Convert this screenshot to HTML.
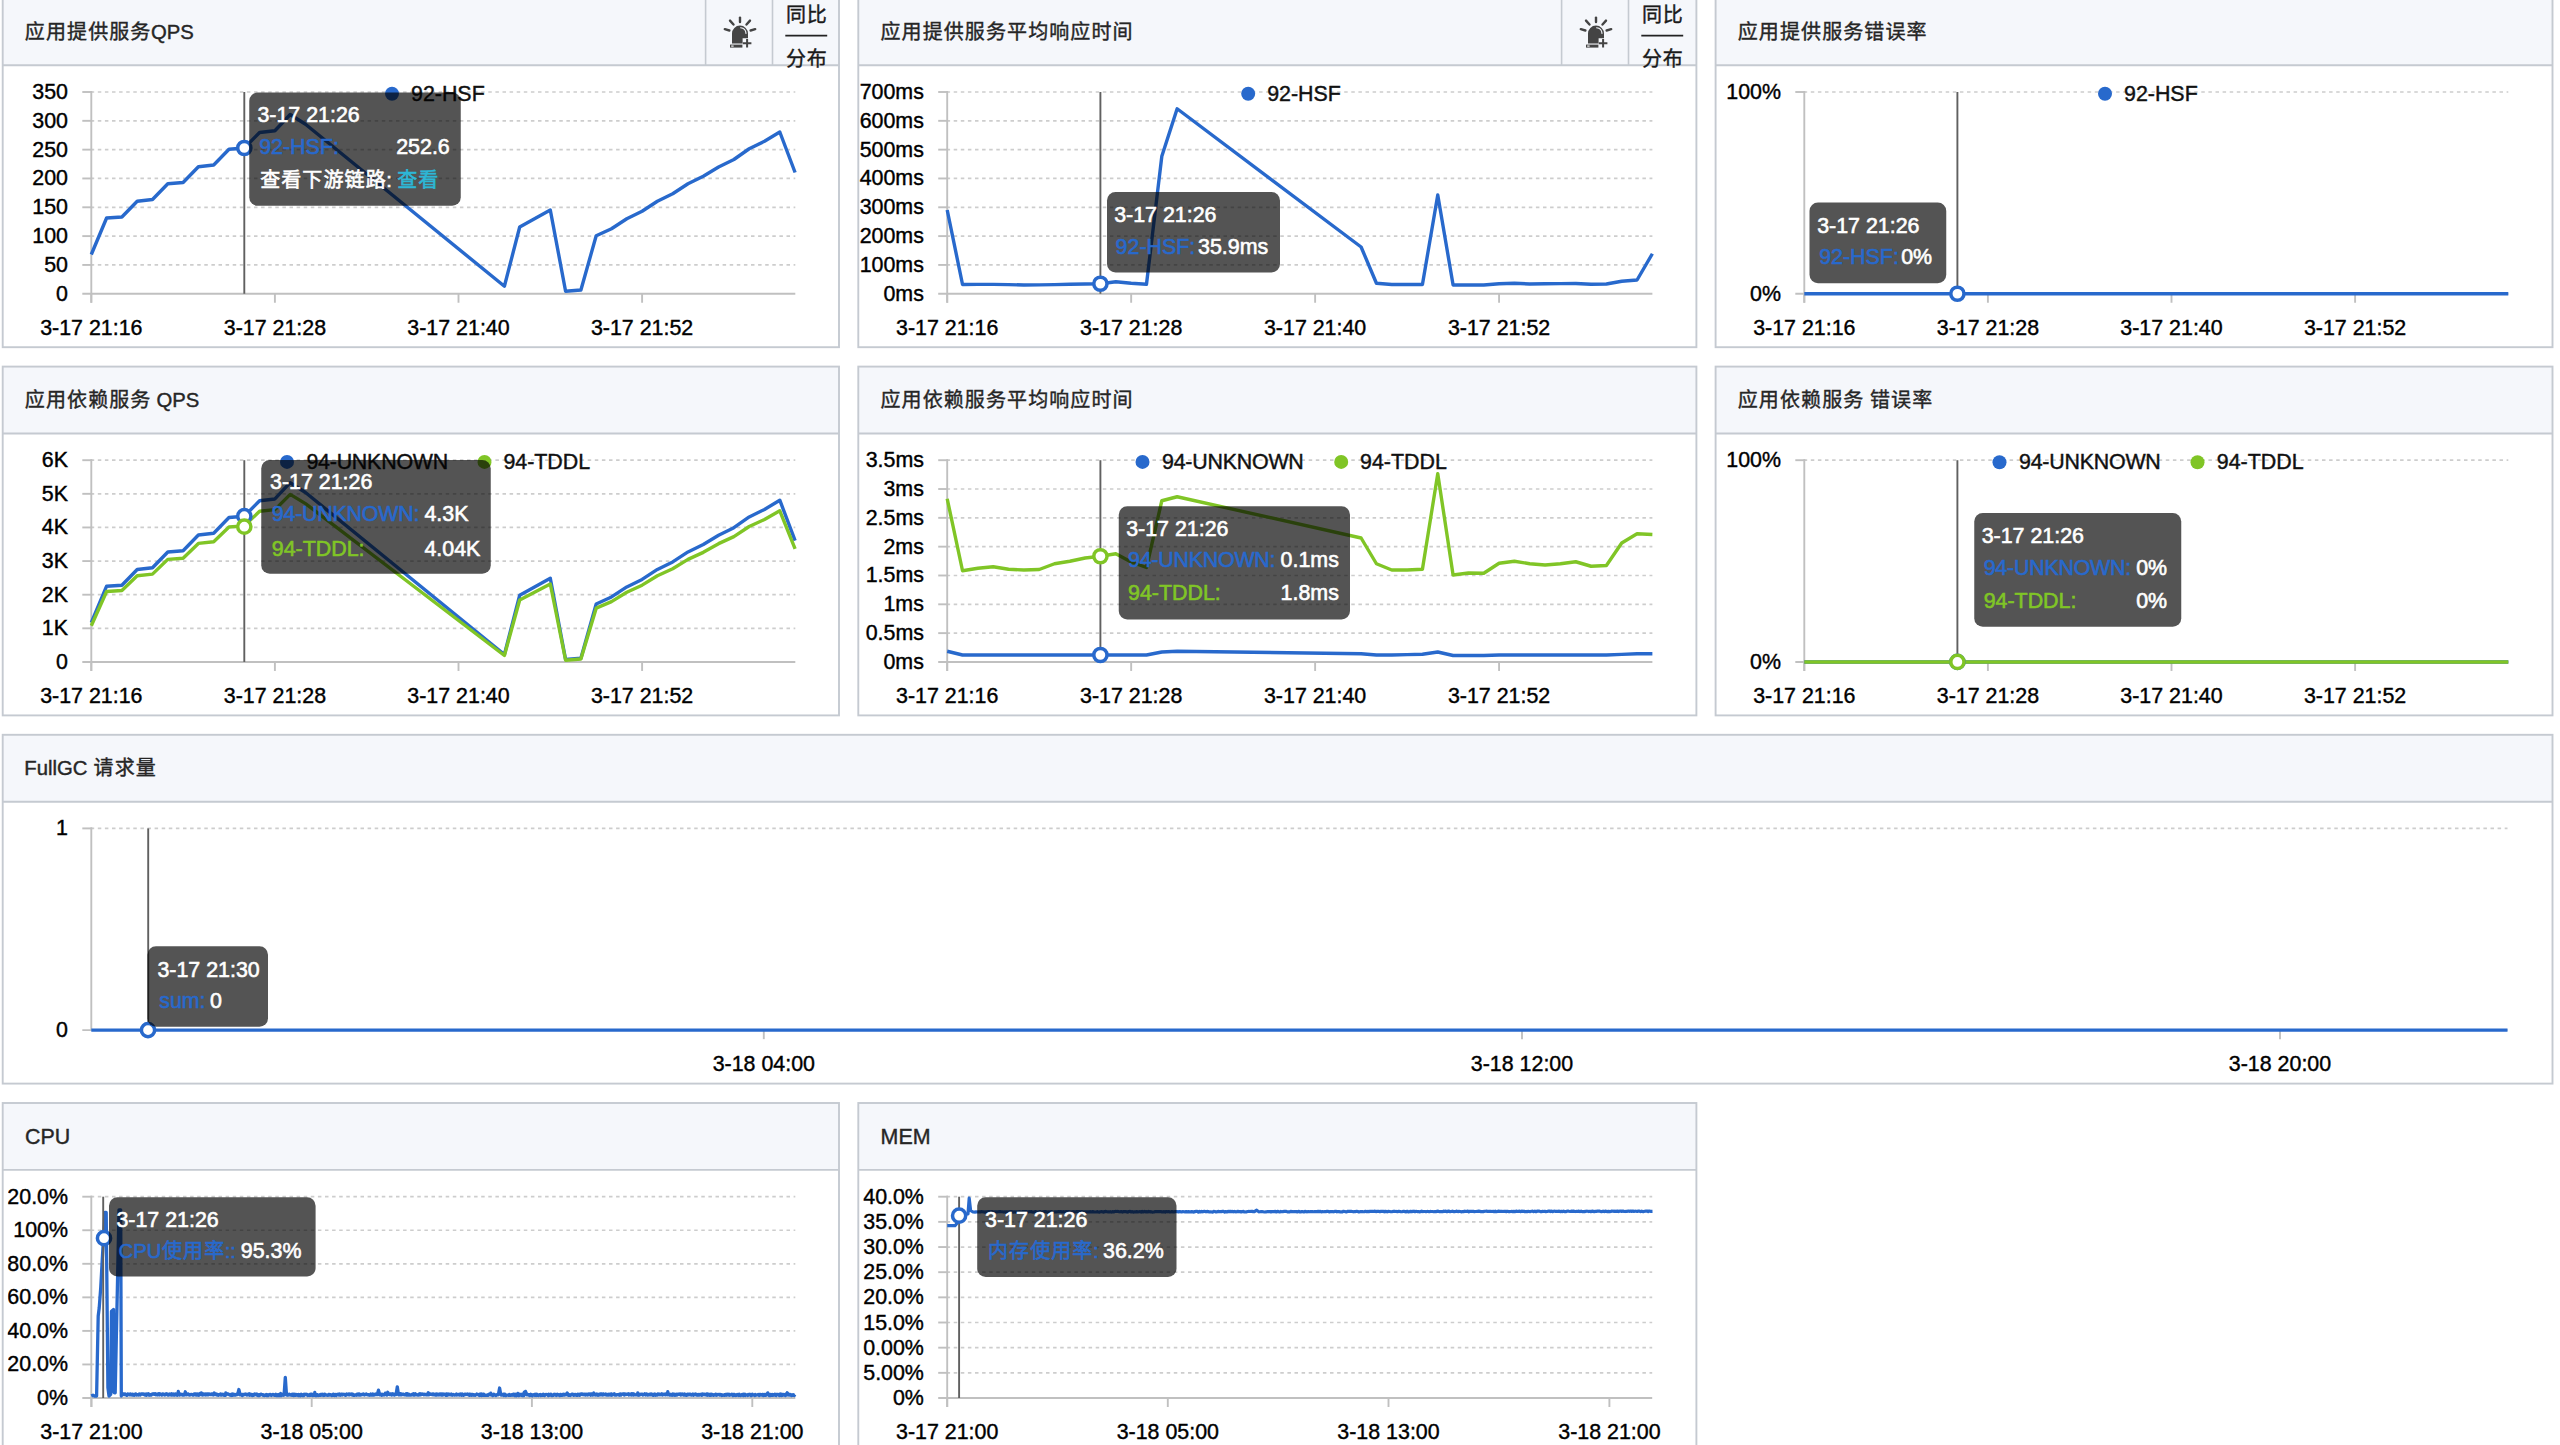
<!DOCTYPE html>
<html lang="zh-CN"><head><meta charset="utf-8"><title>应用监控</title>
<style>
html,body{margin:0;padding:0;background:#fff;}
body{width:2560px;height:1445px;overflow:hidden;}
svg{display:block;}
text{font-family:"Liberation Sans","Noto Sans CJK SC",sans-serif;}
.a{font-size:21.4px;}
.tc{font-size:20px;letter-spacing:1.1px;}
.tl{font-size:20.3px;}
.b{font-size:20px;letter-spacing:0.9px;}
text{stroke-width:0.4px;}
.w{stroke-width:0.6px;}
</style></head>
<body>
<svg width="2560" height="1445" viewBox="0 0 2560 1445">
<defs>
<clipPath id="cp8"><rect x="7.6" y="1170" width="830" height="280"/></clipPath>
<clipPath id="cp9"><rect x="863.2" y="1170" width="832" height="280"/></clipPath>
</defs>
<rect width="2560" height="1445" fill="#fff"/>
<rect x="2.7" y="-1.6" width="836.3" height="66.9" fill="#f5f7fb"/>
<rect x="2.7" y="65.3" width="836.3" height="281.9" fill="#fff"/>
<line x1="705.6" y1="-1.6" x2="705.6" y2="65.3" stroke="#c5cad1" stroke-width="1.6"/>
<line x1="772.5" y1="-1.6" x2="772.5" y2="65.3" stroke="#c5cad1" stroke-width="1.6"/>
<rect x="2.7" y="-1.6" width="836.3" height="348.8" fill="none" stroke="#c5cad1" stroke-width="1.9"/>
<line x1="2.7" y1="65.3" x2="839" y2="65.3" stroke="#c5cad1" stroke-width="1.9"/>
<text class="t" x="24.3" y="38.7" fill="#262626" stroke="#262626"><tspan class="tc" dx="0.55">应用提供服务</tspan><tspan class="tl" dx="-0.55">QPS</tspan></text>
<g transform="translate(0,0)"><line x1="740" y1="17.6" x2="740" y2="22.0" stroke="#444" stroke-width="2.4" stroke-linecap="round"/><line x1="730.0" y1="20.6" x2="733.5" y2="24.5" stroke="#444" stroke-width="2.4" stroke-linecap="round"/><line x1="750.0" y1="20.6" x2="746.5" y2="24.5" stroke="#444" stroke-width="2.4" stroke-linecap="round"/><line x1="724.8" y1="29.2" x2="729.4" y2="30.5" stroke="#444" stroke-width="2.4" stroke-linecap="round"/><line x1="755.2" y1="29.2" x2="750.6" y2="30.5" stroke="#444" stroke-width="2.4" stroke-linecap="round"/><path d="M732,43.6 V33.6 A8,8 0 0 1 748,33.6 V38.2 H742.6 V43.6 Z" fill="#444"/><path d="M740.6,27.8 A6,6 0 0 1 746,33.4" fill="none" stroke="#f5f7fb" stroke-width="1.1" stroke-linecap="round"/><rect x="730" y="44.6" width="12.4" height="3" fill="#444"/><rect x="731.2" y="45.4" width="2.4" height="1.4" fill="#ddd"/><path d="M742.8,43.2 H751.4 M747.1,38.9 V47.5" stroke="#444" stroke-width="2" fill="none"/></g>
<text class="b" x="785.9" y="22.4" fill="#1a1a1a" stroke="#1a1a1a">同比</text>
<line x1="785.3" y1="35.6" x2="827.2" y2="35.6" stroke="#222" stroke-width="1.9"/>
<text class="b" x="785.9" y="65.6" fill="#1a1a1a" stroke="#1a1a1a">分布</text>
<rect x="858.3" y="-1.6" width="838.1" height="66.9" fill="#f5f7fb"/>
<rect x="858.3" y="65.3" width="838.1" height="281.9" fill="#fff"/>
<line x1="1561.6" y1="-1.6" x2="1561.6" y2="65.3" stroke="#c5cad1" stroke-width="1.6"/>
<line x1="1628.5" y1="-1.6" x2="1628.5" y2="65.3" stroke="#c5cad1" stroke-width="1.6"/>
<rect x="858.3" y="-1.6" width="838.1" height="348.8" fill="none" stroke="#c5cad1" stroke-width="1.9"/>
<line x1="858.3" y1="65.3" x2="1696.4" y2="65.3" stroke="#c5cad1" stroke-width="1.9"/>
<text class="t" x="879.9" y="38.7" fill="#262626" stroke="#262626"><tspan class="tc" dx="0.55">应用提供服务平均响应时间</tspan></text>
<g transform="translate(856,0)"><line x1="740" y1="17.6" x2="740" y2="22.0" stroke="#444" stroke-width="2.4" stroke-linecap="round"/><line x1="730.0" y1="20.6" x2="733.5" y2="24.5" stroke="#444" stroke-width="2.4" stroke-linecap="round"/><line x1="750.0" y1="20.6" x2="746.5" y2="24.5" stroke="#444" stroke-width="2.4" stroke-linecap="round"/><line x1="724.8" y1="29.2" x2="729.4" y2="30.5" stroke="#444" stroke-width="2.4" stroke-linecap="round"/><line x1="755.2" y1="29.2" x2="750.6" y2="30.5" stroke="#444" stroke-width="2.4" stroke-linecap="round"/><path d="M732,43.6 V33.6 A8,8 0 0 1 748,33.6 V38.2 H742.6 V43.6 Z" fill="#444"/><path d="M740.6,27.8 A6,6 0 0 1 746,33.4" fill="none" stroke="#f5f7fb" stroke-width="1.1" stroke-linecap="round"/><rect x="730" y="44.6" width="12.4" height="3" fill="#444"/><rect x="731.2" y="45.4" width="2.4" height="1.4" fill="#ddd"/><path d="M742.8,43.2 H751.4 M747.1,38.9 V47.5" stroke="#444" stroke-width="2" fill="none"/></g>
<text class="b" x="1641.9" y="22.4" fill="#1a1a1a" stroke="#1a1a1a">同比</text>
<line x1="1641.3" y1="35.6" x2="1683.2" y2="35.6" stroke="#222" stroke-width="1.9"/>
<text class="b" x="1641.9" y="65.6" fill="#1a1a1a" stroke="#1a1a1a">分布</text>
<rect x="1715.6" y="-1.6" width="836.9" height="66.9" fill="#f5f7fb"/>
<rect x="1715.6" y="65.3" width="836.9" height="281.9" fill="#fff"/>
<rect x="1715.6" y="-1.6" width="836.9" height="348.8" fill="none" stroke="#c5cad1" stroke-width="1.9"/>
<line x1="1715.6" y1="65.3" x2="2552.5" y2="65.3" stroke="#c5cad1" stroke-width="1.9"/>
<text class="t" x="1737.2" y="38.7" fill="#262626" stroke="#262626"><tspan class="tc" dx="0.55">应用提供服务错误率</tspan></text>
<rect x="2.7" y="366.6" width="836.3" height="66.9" fill="#f5f7fb"/>
<rect x="2.7" y="433.5" width="836.3" height="281.9" fill="#fff"/>
<rect x="2.7" y="366.6" width="836.3" height="348.8" fill="none" stroke="#c5cad1" stroke-width="1.9"/>
<line x1="2.7" y1="433.5" x2="839" y2="433.5" stroke="#c5cad1" stroke-width="1.9"/>
<text class="t" x="24.3" y="406.9" fill="#262626" stroke="#262626"><tspan class="tc" dx="0.55">应用依赖服务</tspan><tspan class="tl" dx="-0.55"> QPS</tspan></text>
<rect x="858.3" y="366.6" width="838.1" height="66.9" fill="#f5f7fb"/>
<rect x="858.3" y="433.5" width="838.1" height="281.9" fill="#fff"/>
<rect x="858.3" y="366.6" width="838.1" height="348.8" fill="none" stroke="#c5cad1" stroke-width="1.9"/>
<line x1="858.3" y1="433.5" x2="1696.4" y2="433.5" stroke="#c5cad1" stroke-width="1.9"/>
<text class="t" x="879.9" y="406.9" fill="#262626" stroke="#262626"><tspan class="tc" dx="0.55">应用依赖服务平均响应时间</tspan></text>
<rect x="1715.6" y="366.6" width="836.9" height="66.9" fill="#f5f7fb"/>
<rect x="1715.6" y="433.5" width="836.9" height="281.9" fill="#fff"/>
<rect x="1715.6" y="366.6" width="836.9" height="348.8" fill="none" stroke="#c5cad1" stroke-width="1.9"/>
<line x1="1715.6" y1="433.5" x2="2552.5" y2="433.5" stroke="#c5cad1" stroke-width="1.9"/>
<text class="t" x="1737.2" y="406.9" fill="#262626" stroke="#262626"><tspan class="tc" dx="0.55">应用依赖服务</tspan><tspan class="tl" dx="-0.55"> </tspan><tspan class="tc" dx="0.55">错误率</tspan></text>
<rect x="2.7" y="734.8" width="2549.8" height="66.9" fill="#f5f7fb"/>
<rect x="2.7" y="801.7" width="2549.8" height="281.9" fill="#fff"/>
<rect x="2.7" y="734.8" width="2549.8" height="348.8" fill="none" stroke="#c5cad1" stroke-width="1.9"/>
<line x1="2.7" y1="801.7" x2="2552.5" y2="801.7" stroke="#c5cad1" stroke-width="1.9"/>
<text class="t" x="24.3" y="775.1" fill="#262626" stroke="#262626"><tspan class="tl">FullGC </tspan><tspan class="tc" dx="0.55">请求量</tspan></text>
<rect x="2.7" y="1103" width="836.3" height="66.9" fill="#f5f7fb"/>
<rect x="2.7" y="1169.9" width="836.3" height="281.9" fill="#fff"/>
<rect x="2.7" y="1103" width="836.3" height="348.8" fill="none" stroke="#c5cad1" stroke-width="1.9"/>
<line x1="2.7" y1="1169.9" x2="839" y2="1169.9" stroke="#c5cad1" stroke-width="1.9"/>
<text class="t" x="25" y="1144" fill="#262626" stroke="#262626"><tspan class="a">CPU</tspan></text>
<rect x="858.3" y="1103" width="838.1" height="66.9" fill="#f5f7fb"/>
<rect x="858.3" y="1169.9" width="838.1" height="281.9" fill="#fff"/>
<rect x="858.3" y="1103" width="838.1" height="348.8" fill="none" stroke="#c5cad1" stroke-width="1.9"/>
<line x1="858.3" y1="1169.9" x2="1696.4" y2="1169.9" stroke="#c5cad1" stroke-width="1.9"/>
<text class="t" x="880.6" y="1144" fill="#262626" stroke="#262626"><tspan class="a">MEM</tspan></text>
<line x1="90.7" y1="92" x2="795.3" y2="92" stroke="#cdcdcd" stroke-width="1.7" stroke-dasharray="3.5 3.6"/><line x1="82.3" y1="92" x2="92.2" y2="92" stroke="#c0c0c0" stroke-width="1.9"/><line x1="90.7" y1="120.82" x2="795.3" y2="120.82" stroke="#cdcdcd" stroke-width="1.7" stroke-dasharray="3.5 3.6"/><line x1="82.3" y1="120.82" x2="92.2" y2="120.82" stroke="#c0c0c0" stroke-width="1.9"/><line x1="90.7" y1="149.64" x2="795.3" y2="149.64" stroke="#cdcdcd" stroke-width="1.7" stroke-dasharray="3.5 3.6"/><line x1="82.3" y1="149.64" x2="92.2" y2="149.64" stroke="#c0c0c0" stroke-width="1.9"/><line x1="90.7" y1="178.46" x2="795.3" y2="178.46" stroke="#cdcdcd" stroke-width="1.7" stroke-dasharray="3.5 3.6"/><line x1="82.3" y1="178.46" x2="92.2" y2="178.46" stroke="#c0c0c0" stroke-width="1.9"/><line x1="90.7" y1="207.29" x2="795.3" y2="207.29" stroke="#cdcdcd" stroke-width="1.7" stroke-dasharray="3.5 3.6"/><line x1="82.3" y1="207.29" x2="92.2" y2="207.29" stroke="#c0c0c0" stroke-width="1.9"/><line x1="90.7" y1="236.11" x2="795.3" y2="236.11" stroke="#cdcdcd" stroke-width="1.7" stroke-dasharray="3.5 3.6"/><line x1="82.3" y1="236.11" x2="92.2" y2="236.11" stroke="#c0c0c0" stroke-width="1.9"/><line x1="90.7" y1="264.93" x2="795.3" y2="264.93" stroke="#cdcdcd" stroke-width="1.7" stroke-dasharray="3.5 3.6"/><line x1="82.3" y1="264.93" x2="92.2" y2="264.93" stroke="#c0c0c0" stroke-width="1.9"/><line x1="82.3" y1="293.75" x2="795.3" y2="293.75" stroke="#c0c0c0" stroke-width="1.9"/><line x1="91.3" y1="91.1" x2="91.3" y2="302.75" stroke="#c0c0c0" stroke-width="1.9"/><line x1="91.3" y1="293.75" x2="91.3" y2="302.75" stroke="#c0c0c0" stroke-width="1.9"/><line x1="274.9" y1="293.75" x2="274.9" y2="302.75" stroke="#c0c0c0" stroke-width="1.9"/><line x1="458.5" y1="293.75" x2="458.5" y2="302.75" stroke="#c0c0c0" stroke-width="1.9"/><line x1="642.1" y1="293.75" x2="642.1" y2="302.75" stroke="#c0c0c0" stroke-width="1.9"/>
<g class="a" fill="#000" stroke="#000"><text x="68" y="99" text-anchor="end">350</text><text x="68" y="127.82" text-anchor="end">300</text><text x="68" y="156.64" text-anchor="end">250</text><text x="68" y="185.46" text-anchor="end">200</text><text x="68" y="214.29" text-anchor="end">150</text><text x="68" y="243.11" text-anchor="end">100</text><text x="68" y="271.93" text-anchor="end">50</text><text x="68" y="300.75" text-anchor="end">0</text><text x="91.3" y="335.05" text-anchor="middle">3-17 21:16</text><text x="274.9" y="335.05" text-anchor="middle">3-17 21:28</text><text x="458.5" y="335.05" text-anchor="middle">3-17 21:40</text><text x="642.1" y="335.05" text-anchor="middle">3-17 21:52</text></g>
<circle cx="392" cy="93.75" r="7" fill="#2869cc"/><text class="a" x="411" y="100.65" fill="#111" stroke="#111">92-HSF</text>
<polyline points="91.3,254.5 106.6,218 121.9,217 137.2,201.25 152.5,199.5 167.8,183.75 183.1,182.5 198.4,166.75 213.7,165 229,149.25 244.3,148 259.6,132.5 274.9,130.75 290.2,114.5 305.5,124.3 504.4,286.25 519.7,227 535,218.5 550.3,210 565.6,291.25 580.9,290 596.2,235.75 611.5,228.75 626.8,218.75 642.1,211.25 657.4,201.25 672.7,193.75 688,183.75 703.3,176.25 718.6,167 733.9,159.5 749.2,148.75 764.5,141.25 779.8,132 795.1,172.5" fill="none" stroke="#2869cc" stroke-width="3.4" stroke-linejoin="round" stroke-linecap="butt"/>
<line x1="244.3" y1="92" x2="244.3" y2="293.75" stroke="#606060" stroke-width="1.9"/>
<circle cx="244.3" cy="148" r="6.6" fill="#fff" stroke="#2869cc" stroke-width="3.5"/>
<rect x="249.25" y="92.5" width="211.5" height="113.25" rx="8.5" fill="rgba(0,0,0,0.67)"/><text class="a w" x="257.4" y="121.7" fill="#fff" stroke="#fff">3-17 21:26</text><text class="a w" x="259.2" y="153.7" fill="#2869cc" stroke="#2869cc">92-HSF:</text><text class="a w" x="396.2" y="153.7" fill="#fff" stroke="#fff">252.6</text><text class="a w" x="259.6" y="187" fill="#fff" stroke="#fff"><tspan class="tc" dx="0.55">查看下游链路</tspan><tspan class="tl" dx="-0.55">:</tspan></text><text class="a w" x="396.6" y="187" fill="#2db7d6" stroke="#2db7d6"><tspan class="tc" dx="0.55">查看</tspan></text>
<line x1="946.6" y1="92" x2="1652.38" y2="92" stroke="#cdcdcd" stroke-width="1.7" stroke-dasharray="3.5 3.6"/><line x1="938.2" y1="92" x2="948.1" y2="92" stroke="#c0c0c0" stroke-width="1.9"/><line x1="946.6" y1="120.82" x2="1652.38" y2="120.82" stroke="#cdcdcd" stroke-width="1.7" stroke-dasharray="3.5 3.6"/><line x1="938.2" y1="120.82" x2="948.1" y2="120.82" stroke="#c0c0c0" stroke-width="1.9"/><line x1="946.6" y1="149.64" x2="1652.38" y2="149.64" stroke="#cdcdcd" stroke-width="1.7" stroke-dasharray="3.5 3.6"/><line x1="938.2" y1="149.64" x2="948.1" y2="149.64" stroke="#c0c0c0" stroke-width="1.9"/><line x1="946.6" y1="178.46" x2="1652.38" y2="178.46" stroke="#cdcdcd" stroke-width="1.7" stroke-dasharray="3.5 3.6"/><line x1="938.2" y1="178.46" x2="948.1" y2="178.46" stroke="#c0c0c0" stroke-width="1.9"/><line x1="946.6" y1="207.29" x2="1652.38" y2="207.29" stroke="#cdcdcd" stroke-width="1.7" stroke-dasharray="3.5 3.6"/><line x1="938.2" y1="207.29" x2="948.1" y2="207.29" stroke="#c0c0c0" stroke-width="1.9"/><line x1="946.6" y1="236.11" x2="1652.38" y2="236.11" stroke="#cdcdcd" stroke-width="1.7" stroke-dasharray="3.5 3.6"/><line x1="938.2" y1="236.11" x2="948.1" y2="236.11" stroke="#c0c0c0" stroke-width="1.9"/><line x1="946.6" y1="264.93" x2="1652.38" y2="264.93" stroke="#cdcdcd" stroke-width="1.7" stroke-dasharray="3.5 3.6"/><line x1="938.2" y1="264.93" x2="948.1" y2="264.93" stroke="#c0c0c0" stroke-width="1.9"/><line x1="938.2" y1="293.75" x2="1652.38" y2="293.75" stroke="#c0c0c0" stroke-width="1.9"/><line x1="947.2" y1="91.1" x2="947.2" y2="302.75" stroke="#c0c0c0" stroke-width="1.9"/><line x1="947.2" y1="293.75" x2="947.2" y2="302.75" stroke="#c0c0c0" stroke-width="1.9"/><line x1="1131.16" y1="293.75" x2="1131.16" y2="302.75" stroke="#c0c0c0" stroke-width="1.9"/><line x1="1315.12" y1="293.75" x2="1315.12" y2="302.75" stroke="#c0c0c0" stroke-width="1.9"/><line x1="1499.08" y1="293.75" x2="1499.08" y2="302.75" stroke="#c0c0c0" stroke-width="1.9"/>
<g class="a" fill="#000" stroke="#000"><text x="923.9" y="99" text-anchor="end">700ms</text><text x="923.9" y="127.82" text-anchor="end">600ms</text><text x="923.9" y="156.64" text-anchor="end">500ms</text><text x="923.9" y="185.46" text-anchor="end">400ms</text><text x="923.9" y="214.29" text-anchor="end">300ms</text><text x="923.9" y="243.11" text-anchor="end">200ms</text><text x="923.9" y="271.93" text-anchor="end">100ms</text><text x="923.9" y="300.75" text-anchor="end">0ms</text><text x="947.2" y="335.05" text-anchor="middle">3-17 21:16</text><text x="1131.16" y="335.05" text-anchor="middle">3-17 21:28</text><text x="1315.12" y="335.05" text-anchor="middle">3-17 21:40</text><text x="1499.08" y="335.05" text-anchor="middle">3-17 21:52</text></g>
<circle cx="1248.2" cy="93.75" r="7" fill="#2869cc"/><text class="a" x="1267.2" y="100.65" fill="#111" stroke="#111">92-HSF</text>
<polyline points="947.2,210 962.53,284.5 977.86,284.4 993.19,284.4 1008.52,284.6 1023.85,285 1039.18,284.9 1054.51,284.6 1069.84,284.3 1085.17,284 1100.5,283.75 1115.83,281.75 1131.16,283.25 1146.49,284.25 1161.82,156.25 1177.15,108.75 1361.11,247 1376.44,283.25 1391.77,284.5 1407.1,284.5 1422.43,284.5 1437.76,195 1453.09,285 1468.42,285 1483.75,285 1499.08,283.75 1514.41,283.25 1529.74,284 1545.07,283.8 1560.4,283.6 1575.73,283.5 1591.06,284.25 1606.39,284 1621.72,281.25 1637.05,280 1652.38,253.75" fill="none" stroke="#2869cc" stroke-width="3.4" stroke-linejoin="round" stroke-linecap="butt"/>
<line x1="1100.4" y1="92" x2="1100.4" y2="293.75" stroke="#606060" stroke-width="1.9"/>
<circle cx="1100.4" cy="283.75" r="6.6" fill="#fff" stroke="#2869cc" stroke-width="3.5"/>
<rect x="1107" y="192" width="173" height="80.5" rx="8.5" fill="rgba(0,0,0,0.67)"/><text class="a w" x="1114.2" y="221.9" fill="#fff" stroke="#fff">3-17 21:26</text><text class="a w" x="1115.6" y="253.7" fill="#2869cc" stroke="#2869cc">92-HSF:</text><text class="a w" x="1198" y="253.7" fill="#fff" stroke="#fff">35.9ms</text>
<line x1="1803.7" y1="92" x2="2508.3" y2="92" stroke="#cdcdcd" stroke-width="1.7" stroke-dasharray="3.5 3.6"/><line x1="1795.3" y1="92" x2="1805.2" y2="92" stroke="#c0c0c0" stroke-width="1.9"/><line x1="1795.3" y1="293.75" x2="2508.3" y2="293.75" stroke="#c0c0c0" stroke-width="1.9"/><line x1="1804.3" y1="91.1" x2="1804.3" y2="302.75" stroke="#c0c0c0" stroke-width="1.9"/><line x1="1804.3" y1="293.75" x2="1804.3" y2="302.75" stroke="#c0c0c0" stroke-width="1.9"/><line x1="1987.9" y1="293.75" x2="1987.9" y2="302.75" stroke="#c0c0c0" stroke-width="1.9"/><line x1="2171.5" y1="293.75" x2="2171.5" y2="302.75" stroke="#c0c0c0" stroke-width="1.9"/><line x1="2355.1" y1="293.75" x2="2355.1" y2="302.75" stroke="#c0c0c0" stroke-width="1.9"/>
<g class="a" fill="#000" stroke="#000"><text x="1781" y="99" text-anchor="end">100%</text><text x="1781" y="300.75" text-anchor="end">0%</text><text x="1804.3" y="335.05" text-anchor="middle">3-17 21:16</text><text x="1987.9" y="335.05" text-anchor="middle">3-17 21:28</text><text x="2171.5" y="335.05" text-anchor="middle">3-17 21:40</text><text x="2355.1" y="335.05" text-anchor="middle">3-17 21:52</text></g>
<circle cx="2105" cy="93.75" r="7" fill="#2869cc"/><text class="a" x="2124" y="100.65" fill="#111" stroke="#111">92-HSF</text>
<polyline points="1804.3,293.75 2508.3,293.75" fill="none" stroke="#2869cc" stroke-width="3.4" stroke-linejoin="round" stroke-linecap="butt"/>
<line x1="1957.4" y1="92" x2="1957.4" y2="293.75" stroke="#606060" stroke-width="1.9"/>
<circle cx="1957.4" cy="293.75" r="6.6" fill="#fff" stroke="#2869cc" stroke-width="3.5"/>
<rect x="1809.5" y="202.5" width="136.75" height="80.75" rx="8.5" fill="rgba(0,0,0,0.67)"/><text class="a w" x="1817.2" y="233.2" fill="#fff" stroke="#fff">3-17 21:26</text><text class="a w" x="1819.2" y="264.45" fill="#2869cc" stroke="#2869cc">92-HSF:</text><text class="a w" x="1901.2" y="264.45" fill="#fff" stroke="#fff">0%</text>
<line x1="90.7" y1="460.2" x2="795.3" y2="460.2" stroke="#cdcdcd" stroke-width="1.7" stroke-dasharray="3.5 3.6"/><line x1="82.3" y1="460.2" x2="92.2" y2="460.2" stroke="#c0c0c0" stroke-width="1.9"/><line x1="90.7" y1="493.82" x2="795.3" y2="493.82" stroke="#cdcdcd" stroke-width="1.7" stroke-dasharray="3.5 3.6"/><line x1="82.3" y1="493.82" x2="92.2" y2="493.82" stroke="#c0c0c0" stroke-width="1.9"/><line x1="90.7" y1="527.45" x2="795.3" y2="527.45" stroke="#cdcdcd" stroke-width="1.7" stroke-dasharray="3.5 3.6"/><line x1="82.3" y1="527.45" x2="92.2" y2="527.45" stroke="#c0c0c0" stroke-width="1.9"/><line x1="90.7" y1="561.08" x2="795.3" y2="561.08" stroke="#cdcdcd" stroke-width="1.7" stroke-dasharray="3.5 3.6"/><line x1="82.3" y1="561.08" x2="92.2" y2="561.08" stroke="#c0c0c0" stroke-width="1.9"/><line x1="90.7" y1="594.7" x2="795.3" y2="594.7" stroke="#cdcdcd" stroke-width="1.7" stroke-dasharray="3.5 3.6"/><line x1="82.3" y1="594.7" x2="92.2" y2="594.7" stroke="#c0c0c0" stroke-width="1.9"/><line x1="90.7" y1="628.33" x2="795.3" y2="628.33" stroke="#cdcdcd" stroke-width="1.7" stroke-dasharray="3.5 3.6"/><line x1="82.3" y1="628.33" x2="92.2" y2="628.33" stroke="#c0c0c0" stroke-width="1.9"/><line x1="82.3" y1="661.95" x2="795.3" y2="661.95" stroke="#c0c0c0" stroke-width="1.9"/><line x1="91.3" y1="459.3" x2="91.3" y2="670.95" stroke="#c0c0c0" stroke-width="1.9"/><line x1="91.3" y1="661.95" x2="91.3" y2="670.95" stroke="#c0c0c0" stroke-width="1.9"/><line x1="274.9" y1="661.95" x2="274.9" y2="670.95" stroke="#c0c0c0" stroke-width="1.9"/><line x1="458.5" y1="661.95" x2="458.5" y2="670.95" stroke="#c0c0c0" stroke-width="1.9"/><line x1="642.1" y1="661.95" x2="642.1" y2="670.95" stroke="#c0c0c0" stroke-width="1.9"/>
<g class="a" fill="#000" stroke="#000"><text x="68" y="467.2" text-anchor="end">6K</text><text x="68" y="500.82" text-anchor="end">5K</text><text x="68" y="534.45" text-anchor="end">4K</text><text x="68" y="568.08" text-anchor="end">3K</text><text x="68" y="601.7" text-anchor="end">2K</text><text x="68" y="635.33" text-anchor="end">1K</text><text x="68" y="668.95" text-anchor="end">0</text><text x="91.3" y="703.25" text-anchor="middle">3-17 21:16</text><text x="274.9" y="703.25" text-anchor="middle">3-17 21:28</text><text x="458.5" y="703.25" text-anchor="middle">3-17 21:40</text><text x="642.1" y="703.25" text-anchor="middle">3-17 21:52</text></g>
<circle cx="287" cy="461.9" r="7" fill="#2869cc"/><text class="a" x="306.4" y="468.8" fill="#111" stroke="#111" letter-spacing="-0.22">94-UNKNOWN</text><circle cx="484.5" cy="461.9" r="7" fill="#80c526"/><text class="a" x="503.4" y="468.8" fill="#111" stroke="#111">94-TDDL</text>
<polyline points="91.3,622.7 106.6,586.2 121.9,585.2 137.2,569.45 152.5,567.7 167.8,551.95 183.1,550.7 198.4,534.95 213.7,533.2 229,517.45 244.3,516.2 259.6,500.7 274.9,498.95 290.2,482.7 305.5,492.5 504.4,654.45 519.7,595.2 535,586.7 550.3,578.2 565.6,659.45 580.9,658.2 596.2,603.95 611.5,596.95 626.8,586.95 642.1,579.45 657.4,569.45 672.7,561.95 688,551.95 703.3,544.45 718.6,535.2 733.9,527.7 749.2,516.95 764.5,509.45 779.8,500.2 795.1,540.7" fill="none" stroke="#2869cc" stroke-width="3.4" stroke-linejoin="round" stroke-linecap="butt"/>
<polyline points="91.3,625.73 106.6,591.5 121.9,590.56 137.2,575.79 152.5,574.14 167.8,559.37 183.1,558.2 198.4,543.42 213.7,541.78 229,527.01 244.3,525.84 259.6,511.3 274.9,509.66 290.2,494.41 305.5,503.61 504.4,655.52 519.7,599.94 535,591.97 550.3,583.99 565.6,660.21 580.9,659.03 596.2,608.15 611.5,601.58 626.8,592.2 642.1,585.17 657.4,575.79 672.7,568.75 688,559.37 703.3,552.34 718.6,543.66 733.9,536.62 749.2,526.54 764.5,519.5 779.8,510.83 795.1,548.82" fill="none" stroke="#80c526" stroke-width="3.4" stroke-linejoin="round" stroke-linecap="butt"/>
<line x1="244.3" y1="460.2" x2="244.3" y2="661.95" stroke="#606060" stroke-width="1.9"/>
<circle cx="244.3" cy="516.2" r="6.6" fill="#fff" stroke="#2869cc" stroke-width="3.5"/>
<circle cx="244.3" cy="526.7" r="6.6" fill="#fff" stroke="#80c526" stroke-width="3.5"/>
<rect x="261.25" y="460" width="229.5" height="113.75" rx="8.5" fill="rgba(0,0,0,0.67)"/><text class="a w" x="270" y="489.45" fill="#fff" stroke="#fff">3-17 21:26</text><text class="a w" x="271.8" y="521.45" fill="#2869cc" stroke="#2869cc" letter-spacing="-0.22">94-UNKNOWN:</text><text class="a w" x="424.4" y="521.45" fill="#fff" stroke="#fff">4.3K</text><text class="a w" x="271.8" y="555.7" fill="#80c526" stroke="#80c526">94-TDDL:</text><text class="a w" x="424.4" y="555.7" fill="#fff" stroke="#fff">4.04K</text>
<line x1="946.6" y1="460.2" x2="1652.38" y2="460.2" stroke="#cdcdcd" stroke-width="1.7" stroke-dasharray="3.5 3.6"/><line x1="938.2" y1="460.2" x2="948.1" y2="460.2" stroke="#c0c0c0" stroke-width="1.9"/><line x1="946.6" y1="489.02" x2="1652.38" y2="489.02" stroke="#cdcdcd" stroke-width="1.7" stroke-dasharray="3.5 3.6"/><line x1="938.2" y1="489.02" x2="948.1" y2="489.02" stroke="#c0c0c0" stroke-width="1.9"/><line x1="946.6" y1="517.84" x2="1652.38" y2="517.84" stroke="#cdcdcd" stroke-width="1.7" stroke-dasharray="3.5 3.6"/><line x1="938.2" y1="517.84" x2="948.1" y2="517.84" stroke="#c0c0c0" stroke-width="1.9"/><line x1="946.6" y1="546.66" x2="1652.38" y2="546.66" stroke="#cdcdcd" stroke-width="1.7" stroke-dasharray="3.5 3.6"/><line x1="938.2" y1="546.66" x2="948.1" y2="546.66" stroke="#c0c0c0" stroke-width="1.9"/><line x1="946.6" y1="575.49" x2="1652.38" y2="575.49" stroke="#cdcdcd" stroke-width="1.7" stroke-dasharray="3.5 3.6"/><line x1="938.2" y1="575.49" x2="948.1" y2="575.49" stroke="#c0c0c0" stroke-width="1.9"/><line x1="946.6" y1="604.31" x2="1652.38" y2="604.31" stroke="#cdcdcd" stroke-width="1.7" stroke-dasharray="3.5 3.6"/><line x1="938.2" y1="604.31" x2="948.1" y2="604.31" stroke="#c0c0c0" stroke-width="1.9"/><line x1="946.6" y1="633.13" x2="1652.38" y2="633.13" stroke="#cdcdcd" stroke-width="1.7" stroke-dasharray="3.5 3.6"/><line x1="938.2" y1="633.13" x2="948.1" y2="633.13" stroke="#c0c0c0" stroke-width="1.9"/><line x1="938.2" y1="661.95" x2="1652.38" y2="661.95" stroke="#c0c0c0" stroke-width="1.9"/><line x1="947.2" y1="459.3" x2="947.2" y2="670.95" stroke="#c0c0c0" stroke-width="1.9"/><line x1="947.2" y1="661.95" x2="947.2" y2="670.95" stroke="#c0c0c0" stroke-width="1.9"/><line x1="1131.16" y1="661.95" x2="1131.16" y2="670.95" stroke="#c0c0c0" stroke-width="1.9"/><line x1="1315.12" y1="661.95" x2="1315.12" y2="670.95" stroke="#c0c0c0" stroke-width="1.9"/><line x1="1499.08" y1="661.95" x2="1499.08" y2="670.95" stroke="#c0c0c0" stroke-width="1.9"/>
<g class="a" fill="#000" stroke="#000"><text x="923.9" y="467.2" text-anchor="end">3.5ms</text><text x="923.9" y="496.02" text-anchor="end">3ms</text><text x="923.9" y="524.84" text-anchor="end">2.5ms</text><text x="923.9" y="553.66" text-anchor="end">2ms</text><text x="923.9" y="582.49" text-anchor="end">1.5ms</text><text x="923.9" y="611.31" text-anchor="end">1ms</text><text x="923.9" y="640.13" text-anchor="end">0.5ms</text><text x="923.9" y="668.95" text-anchor="end">0ms</text><text x="947.2" y="703.25" text-anchor="middle">3-17 21:16</text><text x="1131.16" y="703.25" text-anchor="middle">3-17 21:28</text><text x="1315.12" y="703.25" text-anchor="middle">3-17 21:40</text><text x="1499.08" y="703.25" text-anchor="middle">3-17 21:52</text></g>
<circle cx="1142.5" cy="461.9" r="7" fill="#2869cc"/><text class="a" x="1162" y="468.8" fill="#111" stroke="#111" letter-spacing="-0.22">94-UNKNOWN</text><circle cx="1341.2" cy="461.9" r="7" fill="#80c526"/><text class="a" x="1360" y="468.8" fill="#111" stroke="#111">94-TDDL</text>
<polyline points="947.2,651.25 962.53,655 1146.49,655 1161.82,652 1177.15,651.25 1361.11,653.75 1376.44,655 1391.77,655 1407.1,654.6 1422.43,654.25 1437.76,652 1453.09,655.5 1468.42,655.5 1483.75,655.5 1499.08,655 1606.39,655 1621.72,654.4 1637.05,653.75 1652.38,653.75" fill="none" stroke="#2869cc" stroke-width="3.4" stroke-linejoin="round" stroke-linecap="butt"/>
<polyline points="947.2,498.75 962.53,570.75 977.86,568.25 993.19,566.75 1008.52,569.25 1023.85,570 1039.18,569.5 1054.51,563.75 1069.84,561.25 1085.17,558 1100.5,556.25 1115.83,553.75 1131.16,562 1146.49,567.5 1161.82,500.75 1177.15,496.75 1361.11,538 1376.44,563.75 1391.77,570 1407.1,570 1422.43,569.25 1437.76,473.75 1453.09,575 1468.42,573 1483.75,573.25 1499.08,563.25 1514.41,561.25 1529.74,563.75 1545.07,565 1560.4,563.75 1575.73,561.75 1591.06,566.25 1606.39,565.5 1621.72,543 1637.05,533.75 1652.38,534.5" fill="none" stroke="#80c526" stroke-width="3.4" stroke-linejoin="round" stroke-linecap="butt"/>
<line x1="1100.4" y1="460.2" x2="1100.4" y2="661.95" stroke="#606060" stroke-width="1.9"/>
<circle cx="1100.4" cy="655" r="6.6" fill="#fff" stroke="#2869cc" stroke-width="3.5"/>
<circle cx="1100.4" cy="556.25" r="6.6" fill="#fff" stroke="#80c526" stroke-width="3.5"/>
<rect x="1118.75" y="506.25" width="231.25" height="113.25" rx="8.5" fill="rgba(0,0,0,0.67)"/><text class="a w" x="1126.2" y="535.7" fill="#fff" stroke="#fff">3-17 21:26</text><text class="a w" x="1128" y="566.95" fill="#2869cc" stroke="#2869cc" letter-spacing="-0.22">94-UNKNOWN:</text><text class="a w" x="1280.6" y="566.95" fill="#fff" stroke="#fff">0.1ms</text><text class="a w" x="1128" y="600.2" fill="#80c526" stroke="#80c526">94-TDDL:</text><text class="a w" x="1280.6" y="600.2" fill="#fff" stroke="#fff">1.8ms</text>
<line x1="1803.7" y1="460.2" x2="2508.3" y2="460.2" stroke="#cdcdcd" stroke-width="1.7" stroke-dasharray="3.5 3.6"/><line x1="1795.3" y1="460.2" x2="1805.2" y2="460.2" stroke="#c0c0c0" stroke-width="1.9"/><line x1="1795.3" y1="661.95" x2="2508.3" y2="661.95" stroke="#c0c0c0" stroke-width="1.9"/><line x1="1804.3" y1="459.3" x2="1804.3" y2="670.95" stroke="#c0c0c0" stroke-width="1.9"/><line x1="1804.3" y1="661.95" x2="1804.3" y2="670.95" stroke="#c0c0c0" stroke-width="1.9"/><line x1="1987.9" y1="661.95" x2="1987.9" y2="670.95" stroke="#c0c0c0" stroke-width="1.9"/><line x1="2171.5" y1="661.95" x2="2171.5" y2="670.95" stroke="#c0c0c0" stroke-width="1.9"/><line x1="2355.1" y1="661.95" x2="2355.1" y2="670.95" stroke="#c0c0c0" stroke-width="1.9"/>
<g class="a" fill="#000" stroke="#000"><text x="1781" y="467.2" text-anchor="end">100%</text><text x="1781" y="668.95" text-anchor="end">0%</text><text x="1804.3" y="703.25" text-anchor="middle">3-17 21:16</text><text x="1987.9" y="703.25" text-anchor="middle">3-17 21:28</text><text x="2171.5" y="703.25" text-anchor="middle">3-17 21:40</text><text x="2355.1" y="703.25" text-anchor="middle">3-17 21:52</text></g>
<circle cx="1999.5" cy="462.2" r="7" fill="#2869cc"/><text class="a" x="2019" y="469.1" fill="#111" stroke="#111" letter-spacing="-0.22">94-UNKNOWN</text><circle cx="2197.5" cy="462.2" r="7" fill="#80c526"/><text class="a" x="2216.8" y="469.1" fill="#111" stroke="#111">94-TDDL</text>
<polyline points="1804.3,661.95 2508.3,661.95" fill="none" stroke="#2869cc" stroke-width="3.4" stroke-linejoin="round" stroke-linecap="butt"/>
<polyline points="1804.3,661.95 2508.3,661.95" fill="none" stroke="#80c526" stroke-width="3.4" stroke-linejoin="round" stroke-linecap="butt"/>
<line x1="1957.4" y1="460.2" x2="1957.4" y2="661.95" stroke="#606060" stroke-width="1.9"/>
<circle cx="1957.4" cy="661.95" r="6.6" fill="#fff" stroke="#2869cc" stroke-width="3.5"/>
<circle cx="1957.4" cy="661.95" r="6.6" fill="#fff" stroke="#80c526" stroke-width="3.5"/>
<rect x="1974.25" y="513" width="207" height="113.75" rx="8.5" fill="rgba(0,0,0,0.67)"/><text class="a w" x="1981.7" y="542.95" fill="#fff" stroke="#fff">3-17 21:26</text><text class="a w" x="1983.7" y="574.7" fill="#2869cc" stroke="#2869cc" letter-spacing="-0.22">94-UNKNOWN:</text><text class="a w" x="2136.2" y="574.7" fill="#fff" stroke="#fff">0%</text><text class="a w" x="1983.7" y="607.95" fill="#80c526" stroke="#80c526">94-TDDL:</text><text class="a w" x="2136.2" y="607.95" fill="#fff" stroke="#fff">0%</text>
<line x1="90.7" y1="828.4" x2="2507.5" y2="828.4" stroke="#cdcdcd" stroke-width="1.7" stroke-dasharray="3.5 3.6"/><line x1="82.3" y1="828.4" x2="92.2" y2="828.4" stroke="#c0c0c0" stroke-width="1.9"/><line x1="82.3" y1="1030.15" x2="2507.5" y2="1030.15" stroke="#c0c0c0" stroke-width="1.9"/><line x1="91.3" y1="827.5" x2="91.3" y2="1031.05" stroke="#c0c0c0" stroke-width="1.9"/><line x1="763.8" y1="1030.15" x2="763.8" y2="1039.15" stroke="#c0c0c0" stroke-width="1.9"/><line x1="1522" y1="1030.15" x2="1522" y2="1039.15" stroke="#c0c0c0" stroke-width="1.9"/><line x1="2280" y1="1030.15" x2="2280" y2="1039.15" stroke="#c0c0c0" stroke-width="1.9"/>
<g class="a" fill="#000" stroke="#000"><text x="68" y="835.4" text-anchor="end">1</text><text x="68" y="1037.15" text-anchor="end">0</text><text x="763.8" y="1071.45" text-anchor="middle">3-18 04:00</text><text x="1522" y="1071.45" text-anchor="middle">3-18 12:00</text><text x="2280" y="1071.45" text-anchor="middle">3-18 20:00</text></g>
<polyline points="91.3,1030.15 2507.5,1030.15" fill="none" stroke="#2869cc" stroke-width="3.4" stroke-linejoin="round" stroke-linecap="butt"/>
<line x1="148.2" y1="828.4" x2="148.2" y2="1030.15" stroke="#606060" stroke-width="1.9"/>
<circle cx="148" cy="1030.15" r="6.6" fill="#fff" stroke="#2869cc" stroke-width="3.5"/>
<rect x="147.5" y="946.25" width="120.5" height="80.5" rx="8.5" fill="rgba(0,0,0,0.67)"/><text class="a w" x="157.4" y="976.95" fill="#fff" stroke="#fff">3-17 21:30</text><text class="a w" x="159.2" y="1008.2" fill="#2869cc" stroke="#2869cc">sum:</text><text class="a w" x="210" y="1008.2" fill="#fff" stroke="#fff">0</text>
<line x1="90.7" y1="1196.7" x2="795.3" y2="1196.7" stroke="#cdcdcd" stroke-width="1.7" stroke-dasharray="3.5 3.6"/><line x1="82.3" y1="1196.7" x2="92.2" y2="1196.7" stroke="#c0c0c0" stroke-width="1.9"/><line x1="90.7" y1="1230.25" x2="795.3" y2="1230.25" stroke="#cdcdcd" stroke-width="1.7" stroke-dasharray="3.5 3.6"/><line x1="82.3" y1="1230.25" x2="92.2" y2="1230.25" stroke="#c0c0c0" stroke-width="1.9"/><line x1="90.7" y1="1263.8" x2="795.3" y2="1263.8" stroke="#cdcdcd" stroke-width="1.7" stroke-dasharray="3.5 3.6"/><line x1="82.3" y1="1263.8" x2="92.2" y2="1263.8" stroke="#c0c0c0" stroke-width="1.9"/><line x1="90.7" y1="1297.35" x2="795.3" y2="1297.35" stroke="#cdcdcd" stroke-width="1.7" stroke-dasharray="3.5 3.6"/><line x1="82.3" y1="1297.35" x2="92.2" y2="1297.35" stroke="#c0c0c0" stroke-width="1.9"/><line x1="90.7" y1="1330.9" x2="795.3" y2="1330.9" stroke="#cdcdcd" stroke-width="1.7" stroke-dasharray="3.5 3.6"/><line x1="82.3" y1="1330.9" x2="92.2" y2="1330.9" stroke="#c0c0c0" stroke-width="1.9"/><line x1="90.7" y1="1364.45" x2="795.3" y2="1364.45" stroke="#cdcdcd" stroke-width="1.7" stroke-dasharray="3.5 3.6"/><line x1="82.3" y1="1364.45" x2="92.2" y2="1364.45" stroke="#c0c0c0" stroke-width="1.9"/><line x1="82.3" y1="1398" x2="795.3" y2="1398" stroke="#c0c0c0" stroke-width="1.9"/><line x1="91.3" y1="1195.8" x2="91.3" y2="1407" stroke="#c0c0c0" stroke-width="1.9"/><line x1="91.5" y1="1398" x2="91.5" y2="1407" stroke="#c0c0c0" stroke-width="1.9"/><line x1="311.7" y1="1398" x2="311.7" y2="1407" stroke="#c0c0c0" stroke-width="1.9"/><line x1="531.9" y1="1398" x2="531.9" y2="1407" stroke="#c0c0c0" stroke-width="1.9"/><line x1="752.3" y1="1398" x2="752.3" y2="1407" stroke="#c0c0c0" stroke-width="1.9"/>
<g class="a" fill="#000" stroke="#000" clip-path="url(#cp8)"><text x="68" y="1203.7" text-anchor="end">120.0%</text><text x="68" y="1237.25" text-anchor="end">100%</text><text x="68" y="1270.8" text-anchor="end">80.0%</text><text x="68" y="1304.35" text-anchor="end">60.0%</text><text x="68" y="1337.9" text-anchor="end">40.0%</text><text x="68" y="1371.45" text-anchor="end">20.0%</text><text x="68" y="1405" text-anchor="end">0%</text><text x="91.5" y="1439.3" text-anchor="middle">3-17 21:00</text><text x="311.7" y="1439.3" text-anchor="middle">3-18 05:00</text><text x="531.9" y="1439.3" text-anchor="middle">3-18 13:00</text><text x="752.3" y="1439.3" text-anchor="middle">3-18 21:00</text></g>
<polyline points="91.3,1396 93,1395.2 95,1396.2 96.6,1396 98.2,1316 99.2,1308 100.7,1288 104.9,1212.4 106.2,1212.4 107.9,1387.6 109,1396 110.7,1394.3 111.5,1311.2 113.5,1309.6 114,1392.6 115.2,1392.8 119,1209.9 120.7,1209.9 121.3,1396 121.8,1394.4 122.3,1394.89 122.8,1394.71 123.3,1393.99 123.8,1393.96 124.3,1394 124.8,1394.53 125.3,1394.08 125.8,1394.83 126.3,1394.75 126.8,1395.34 127.3,1395.16 127.8,1394.09 128.3,1394.33 128.8,1394.14 129.3,1394.82 129.8,1394.68 130.3,1393.95 130.8,1394.87 131.3,1394.32 131.8,1394.53 132.3,1395.04 132.8,1394.21 133.3,1394.63 133.8,1394.93 134.3,1395.3 134.8,1394.46 135.3,1394.05 135.8,1393.88 136.3,1394.97 136.8,1395.13 137.3,1394.86 137.8,1394.68 138.3,1395.07 138.8,1394.52 139.3,1393.9 139.8,1394.77 140.3,1395.03 140.8,1394.37 141.3,1393.83 141.8,1394.04 142.3,1393.88 142.8,1393.98 143.3,1394.37 143.8,1393.9 144.3,1394.6 144.8,1395 145.3,1394.19 145.8,1394.31 146.3,1395.21 146.8,1394.03 147.3,1394.11 147.8,1394.65 148.3,1393.77 148.8,1394.31 149.3,1395.18 149.8,1394.53 150.3,1394.77 150.8,1395.1 151.3,1395.06 151.8,1394.33 152.3,1393.9 152.8,1393.83 153.3,1394.05 153.8,1394.25 154.3,1393.74 154.8,1393.89 155.3,1393.77 155.8,1394.65 156.3,1394.11 156.8,1394.27 157.3,1395 157.8,1394.42 158.3,1393.85 158.8,1394.24 159.3,1394.96 159.8,1393.75 160.3,1394.51 160.8,1394.53 161.3,1394.51 161.8,1395.01 162.3,1394.1 162.8,1393.96 163.3,1394.51 163.8,1394.2 164.3,1394.93 164.8,1394.99 165.3,1394.93 165.8,1394.05 166.3,1394.24 166.8,1393.75 167.3,1394.09 167.8,1395.14 168.3,1395.11 168.8,1395.14 169.3,1394.03 169.8,1394 170.3,1394.64 170.8,1394.96 171.3,1394.68 171.8,1393.83 172.3,1395.07 172.8,1394.83 173.3,1393.97 173.8,1394.2 174.3,1395.16 174.8,1394.3 175.3,1394.79 175.8,1393.89 176.3,1395.06 176.8,1393.92 177.3,1395.17 177.8,1394.23 178.3,1391.44 178.8,1394.68 179.3,1395.1 179.8,1395.01 180.3,1394.02 180.8,1394.14 181.3,1394.58 181.8,1394.33 182.3,1395.07 182.8,1394.39 183.3,1395.06 183.8,1395.08 184.3,1394.51 184.8,1393.74 185.3,1391.79 185.8,1393.97 186.3,1394.8 186.8,1394.2 187.3,1394.55 187.8,1393.88 188.3,1394.09 188.8,1394.88 189.3,1394.56 189.8,1395.09 190.3,1394.64 190.8,1394.49 191.3,1394.4 191.8,1394.44 192.3,1394.78 192.8,1395.14 193.3,1394.57 193.8,1394.99 194.3,1393.92 194.8,1393.85 195.3,1393.85 195.8,1394.92 196.3,1393.97 196.8,1394.73 197.3,1395.07 197.8,1394.08 198.3,1394.35 198.8,1395.24 199.3,1394 199.8,1394.53 200.3,1394.05 200.8,1393.01 201.3,1392.93 201.8,1394.7 202.3,1393.86 202.8,1394.95 203.3,1393.93 203.8,1393.83 204.3,1394.18 204.8,1394.41 205.3,1395.01 205.8,1394.01 206.3,1394.64 206.8,1393.92 207.3,1394.83 207.8,1393.9 208.3,1394.75 208.8,1393.93 209.3,1393.9 209.8,1394.49 210.3,1394.64 210.8,1394.21 211.3,1394.6 211.8,1393.98 212.3,1393.9 212.8,1394.29 213.3,1394.97 213.8,1394.58 214.3,1392.98 214.8,1393.86 215.3,1394.66 215.8,1394.55 216.3,1394 216.8,1394.5 217.3,1395.1 217.8,1394.61 218.3,1395.33 218.8,1395.11 219.3,1394.82 219.8,1394.39 220.3,1394.06 220.8,1394.98 221.3,1394.12 221.8,1395.14 222.3,1394.89 222.8,1394.25 223.3,1394.58 223.8,1394.56 224.3,1395.34 224.8,1394.72 225.3,1395.35 225.8,1392.87 226.3,1394.62 226.8,1394.21 227.3,1393.92 227.8,1394.05 228.3,1393.98 228.8,1394.38 229.3,1394.81 229.8,1395.06 230.3,1395.01 230.8,1394.52 231.3,1395.42 231.8,1395.03 232.3,1394.01 232.8,1395.29 233.3,1395.06 233.8,1394.17 234.3,1394.72 234.8,1395.17 235.3,1394.85 235.8,1395 236.3,1394.32 236.8,1394.18 237.3,1394.14 237.7,1394.5 238.9,1389.5 240.1,1394.8 240.3,1394.1 240.8,1394.38 241.3,1394.41 241.8,1394.32 242.3,1395.48 242.8,1394.59 243.3,1395.05 243.8,1394.95 244.3,1394.14 244.8,1394.41 245.3,1394.49 245.8,1394.06 246.3,1394.44 246.8,1395.08 247.3,1394.48 247.8,1394.75 248.3,1394.23 248.8,1394.36 249.3,1393.78 249.8,1395.29 250.3,1394.74 250.8,1394.38 251.3,1394.39 251.8,1394.29 252.3,1395.51 252.8,1395.31 253.3,1395.41 253.8,1394.43 254.3,1394.82 254.8,1394.1 255.3,1394.77 255.8,1394.31 256.3,1394.57 256.8,1394.11 257.3,1395.36 257.8,1395.5 258.3,1395.46 258.8,1394.67 259.3,1395.61 259.8,1394.66 260.3,1394.53 260.8,1394.28 261.3,1394.55 261.8,1394.5 262.3,1394.9 262.8,1394.69 263.3,1395.46 263.8,1395.08 264.3,1395.55 264.8,1395.22 265.3,1395.24 265.8,1395.27 266.3,1394.58 266.8,1395.54 267.3,1394.86 267.8,1394.6 268.3,1395.62 268.8,1395.14 269.3,1395 269.8,1394.41 270.3,1394.48 270.8,1394.91 271.3,1395.53 271.8,1394.84 272.3,1394.46 272.8,1394.68 273.3,1394.53 273.8,1395.03 274.3,1395.3 274.8,1394.8 275.3,1394.74 275.8,1394.27 276.3,1395.63 276.8,1394.94 277.3,1395.48 277.8,1394.59 278.3,1394.79 278.8,1395.62 279.3,1395.5 279.8,1394.24 280.3,1395.53 280.8,1393.48 281.3,1395.58 281.8,1395.48 282.3,1394.57 282.8,1394.43 283.3,1395.22 283.8,1395.28 284.1,1394.5 285.3,1377.4 286.5,1394.8 286.8,1394.58 287.3,1395.25 287.8,1394.3 288.3,1395.07 288.8,1394.54 289.3,1394.22 289.8,1394.89 290.3,1395.17 290.8,1394.91 291.3,1394.57 291.8,1395.26 292.3,1394.23 292.8,1395.21 293.3,1394.59 293.8,1395.59 294.3,1394.25 294.8,1394.83 295.3,1394.5 295.8,1395.31 296.3,1394.5 296.8,1394.66 297.3,1394.54 297.8,1395.34 298.3,1395.62 298.8,1394.47 299.3,1394.82 299.8,1395.62 300.3,1394.78 300.8,1395.65 301.3,1394.27 301.8,1394.78 302.3,1395.51 302.8,1395.68 303.3,1394.68 303.8,1395.59 304.3,1394.23 304.8,1394.75 305.3,1394.68 305.8,1394.18 306.3,1394.71 306.8,1394.36 307.3,1394.49 307.8,1395.41 308.3,1394.82 308.8,1394.88 309.3,1395.55 309.8,1394.71 310.3,1394.21 310.8,1395.38 311.3,1394.22 311.8,1394.25 312.3,1394.54 312.8,1395.5 313.3,1394.56 313.8,1395.08 314.3,1395.23 314.8,1392.43 315.3,1395.52 315.8,1395.56 316.3,1394.49 316.8,1395.58 317.3,1394.72 317.8,1394.78 318.3,1395.53 318.8,1395.33 319.3,1395.36 319.8,1395.04 320.3,1394.6 320.8,1395.29 321.3,1394.41 321.8,1394.49 322.3,1394.16 322.8,1394.6 323.3,1395.43 323.8,1394.5 324.3,1394.25 324.8,1395.17 325.3,1394.45 325.8,1395.03 326.3,1395.21 326.8,1395.09 327.3,1395.35 327.8,1394.93 328.3,1395.19 328.8,1394.45 329.3,1394.31 329.8,1394.94 330.3,1394.66 330.8,1394.83 331.3,1395.28 331.8,1395.55 332.3,1394.77 332.8,1395.32 333.3,1394.11 333.8,1394.23 334.3,1395.5 334.8,1395.44 335.3,1395.34 335.8,1394.43 336.3,1395.45 336.8,1394.92 337.3,1394.35 337.8,1394.23 338.3,1394.4 338.8,1394.99 339.3,1394.03 339.8,1395.03 340.3,1394.47 340.8,1395.2 341.3,1394.09 341.8,1394.59 342.3,1394.95 342.8,1394.24 343.3,1394.6 343.8,1394.44 344.3,1394.45 344.8,1394.51 345.3,1395.27 345.8,1394.52 346.3,1395.06 346.8,1393.97 347.3,1394.6 347.8,1394.57 348.3,1394.64 348.8,1393.97 349.3,1394.91 349.8,1394.08 350.3,1394.5 350.8,1394.15 351.3,1394.71 351.8,1394.09 352.3,1395.13 352.8,1394.22 353.3,1395.33 353.8,1394.64 354.3,1395.3 354.8,1395.27 355.3,1395.14 355.8,1395.08 356.3,1394.51 356.8,1395.14 357.3,1394.22 357.8,1394.67 358.3,1394.07 358.8,1394.97 359.3,1393.94 359.8,1395.01 360.3,1395.13 360.8,1394.77 361.3,1394.81 361.8,1394.49 362.3,1394.5 362.8,1394.53 363.3,1393.89 363.8,1394.59 364.3,1394.99 364.8,1394.53 365.3,1394.55 365.8,1394.03 366.3,1393.97 366.8,1394.6 367.3,1394.78 367.8,1394.93 368.3,1394.59 368.8,1394.58 369.3,1395.24 369.8,1395.1 370.3,1394.91 370.8,1394.1 371.3,1394.54 371.8,1395.18 372.3,1394.98 372.8,1393.9 373.3,1394.93 373.8,1395.14 374.3,1395.01 374.8,1394.54 375.3,1394.1 375.8,1394.54 376.3,1393.84 376.8,1394.02 377.3,1394.5 378.5,1390.2 379.7,1394.8 379.8,1394.63 380.3,1393.92 380.8,1394.7 381.3,1394.95 381.8,1395.24 382.3,1394.29 382.8,1394.41 383.3,1394.86 383.8,1394.98 384.3,1394.7 384.8,1394.62 385.3,1393.16 385.8,1393.96 386.3,1394.39 386.8,1395.08 387.3,1394.07 387.8,1392.23 388.3,1393.89 388.8,1394.07 389.3,1394.61 389.8,1394.66 390.3,1393.93 390.8,1394.09 391.3,1393.87 391.8,1395.03 392.3,1394.32 392.8,1393.74 393.3,1394.56 393.8,1394.68 394.3,1395.12 394.8,1394.09 395.3,1393.78 395.8,1394.32 396.1,1394.5 397.3,1386.8 398.5,1394.8 398.8,1394.93 399.3,1394.17 399.8,1393.78 400.3,1394.88 400.8,1393.71 401.3,1394.82 401.8,1394.81 402.3,1394.04 402.8,1394.05 403.3,1394.2 403.8,1394.74 404.3,1394.77 404.8,1394.53 405.3,1394.88 405.8,1394.1 406.3,1395.15 406.8,1393.63 407.3,1394.05 407.8,1395.12 408.3,1394.19 408.8,1394.19 409.3,1395.06 409.8,1394.74 410.3,1395.17 410.8,1394.96 411.3,1394.99 411.8,1394.79 412.3,1394.16 412.8,1394.64 413.3,1395.07 413.8,1393.74 414.3,1395.1 414.8,1393.92 415.3,1393.77 415.8,1394.66 416.3,1394.81 416.8,1394.59 417.3,1394.94 417.8,1395.05 418.3,1395.01 418.8,1395.13 419.3,1394.02 419.8,1393.77 420.3,1394.93 420.8,1394.96 421.3,1394.15 421.8,1393.87 422.3,1394.03 422.8,1394.36 423.3,1394.11 423.8,1394.8 424.3,1394.21 424.8,1394.48 425.3,1394.66 425.8,1394.35 426.3,1394.89 426.8,1394.79 427.3,1394.06 427.8,1393.88 428.3,1392.69 428.8,1394.89 429.3,1393.75 429.8,1394.48 430.3,1394.03 430.8,1394.27 431.3,1394.14 431.8,1394.18 432.3,1394.81 432.8,1393.92 433.3,1393.88 433.8,1394.81 434.3,1394.71 434.8,1394.37 435.3,1395.11 435.8,1395.11 436.3,1394.08 436.8,1395.13 437.3,1394.35 437.8,1394.13 438.3,1394.58 438.8,1394.92 439.3,1394.31 439.8,1394.03 440.3,1394.79 440.8,1394.05 441.3,1394.96 441.8,1393.99 442.3,1395.13 442.8,1394.1 443.3,1394.87 443.8,1394.05 444.3,1394.19 444.8,1394.6 445.3,1394.32 445.8,1395.29 446.3,1393.98 446.8,1393.98 447.3,1395.31 447.8,1394.94 448.3,1394.14 448.8,1394 449.3,1394.43 449.8,1394.45 450.3,1394.89 450.8,1394.81 451.3,1394.07 451.8,1394.47 452.3,1395.23 452.8,1394.73 453.3,1394.5 453.8,1394.96 454.3,1395.04 454.8,1395.16 455.3,1394.85 455.8,1394.36 456.3,1394.04 456.8,1395.07 457.3,1394.84 457.8,1394.54 458.3,1394.84 458.8,1394.92 459.3,1394.19 459.8,1395.08 460.3,1394.65 460.8,1393.98 461.3,1394.17 461.8,1395.34 462.3,1394.08 462.8,1394.75 463.3,1394.71 463.8,1395.19 464.3,1394.56 464.8,1394.26 465.3,1394.54 465.8,1394.14 466.3,1394.49 466.8,1394.37 467.3,1393.99 467.8,1394.6 468.3,1394.5 468.8,1394.31 469.3,1395.39 469.8,1394.31 470.3,1394.57 470.8,1394.18 471.3,1395.21 471.8,1394.7 472.3,1394.34 472.8,1394.53 473.3,1395.23 473.8,1394.71 474.3,1394.83 474.8,1395.27 475.3,1395.29 475.8,1394.59 476.3,1394.66 476.8,1394.03 477.3,1394.45 477.8,1394.49 478.3,1394.68 478.8,1395.03 479.3,1395.44 479.8,1394.13 480.3,1395.41 480.8,1394.26 481.3,1393.99 481.8,1395.49 482.3,1394.44 482.8,1394.28 483.3,1395.23 483.8,1394.3 484.3,1395.26 484.8,1395.41 485.3,1395.25 485.8,1395.42 486.3,1395.34 486.8,1395.13 487.3,1395.2 487.8,1395.42 488.3,1394.49 488.8,1394.31 489.3,1394.19 489.8,1394.32 490.3,1394.86 490.8,1393.14 491.3,1394.82 491.8,1395.11 492.3,1394.68 492.8,1395.56 493.3,1395.08 493.8,1394.17 494.3,1395.15 494.8,1394.63 495.3,1394.9 495.8,1395.48 496.3,1395.21 496.8,1394.65 497.3,1394.69 497.8,1394.93 498.3,1394.46 498.4,1394.5 499.6,1388 500.8,1394.8 501.3,1395.14 501.8,1394.66 502.3,1394.61 502.8,1395.12 503.3,1394.23 503.8,1395.5 504.3,1394.24 504.8,1394.18 505.3,1395.55 505.8,1395.16 506.3,1395.54 506.8,1395.1 507.3,1395.22 507.8,1395.2 508.3,1395.18 508.8,1395.33 509.3,1394.45 509.8,1395.35 510.3,1395.17 510.8,1395.42 511.3,1395.03 511.8,1394.64 512.3,1394.67 512.8,1395.15 513.3,1394.27 513.8,1394.25 514.3,1395.41 514.8,1395.57 515.3,1394.22 515.8,1395.08 516.3,1395.67 516.8,1394.82 517.3,1395.16 517.8,1393.42 518.3,1395.22 518.8,1395.65 519.3,1395.5 519.8,1394.23 520.3,1394.56 520.8,1394.48 521.3,1395.36 521.8,1395.48 522.3,1394.33 522.8,1395.26 523.3,1395.6 523.8,1395.65 524.3,1392.24 524.3,1394.5 525.5,1391.4 526.7,1394.8 526.8,1394.75 527.3,1394.86 527.8,1394.42 528.3,1394.74 528.8,1395.14 529.3,1394.78 529.8,1395.61 530.3,1395.05 530.8,1394.29 531.3,1395.25 531.8,1394.69 532.3,1395.66 532.8,1395.09 533.3,1394.83 533.8,1394.75 534.3,1395.09 534.8,1395.4 535.3,1394.19 535.8,1394.82 536.3,1395.41 536.8,1394.25 537.3,1395.4 537.8,1395.04 538.3,1395.46 538.8,1395.2 539.3,1394.7 539.8,1395.01 540.3,1394.47 540.8,1395.57 541.3,1395.08 541.8,1394.87 542.3,1394.55 542.8,1395.35 543.3,1394.3 543.8,1395.32 544.3,1395.03 544.8,1395.49 545.3,1394.87 545.8,1394.44 546.3,1394.42 546.8,1394.69 547.3,1394.75 547.8,1394.37 548.3,1395.64 548.8,1394.3 549.3,1395.32 549.8,1395.03 550.3,1394.91 550.8,1394.18 551.3,1395.43 551.8,1394.98 552.3,1395.29 552.8,1395.54 553.3,1395.35 553.8,1394.5 554.3,1394.42 554.8,1394.24 555.3,1394.95 555.8,1394.8 556.3,1395.47 556.8,1395 557.3,1394.28 557.8,1394.48 558.3,1395.06 558.8,1395.1 559.3,1394.76 559.8,1395.54 560.3,1394.42 560.8,1394.46 561.3,1395.43 561.8,1395.33 562.3,1395.25 562.8,1395.04 563.3,1394.15 563.8,1395.2 564.3,1395.08 564.8,1394.94 565.3,1394.21 565.8,1394.44 566.3,1394.77 566.8,1394.4 567.3,1392.98 567.8,1394.33 568.3,1395.43 568.8,1395.43 569.3,1395.36 569.8,1394.7 570.3,1395.42 570.8,1394.96 571.3,1394.53 571.8,1394.73 572.3,1394.22 572.8,1394.09 573.3,1394.83 573.8,1395.31 574.3,1394.61 574.8,1394.4 575.3,1394.49 575.8,1394.72 576.3,1395.34 576.8,1395.45 577.3,1395.32 577.8,1394.29 578.3,1394.4 578.8,1394.27 579.3,1395.45 579.8,1395.35 580.3,1394.39 580.8,1394.04 581.3,1394.39 581.8,1393.97 582.3,1394.45 582.8,1393.94 583.3,1394.73 583.8,1394.59 584.3,1394.26 584.8,1394.13 585.3,1395.08 585.8,1394.21 586.3,1394.05 586.8,1394.66 587.3,1394.22 587.8,1394.97 588.3,1394.78 588.8,1394 589.3,1394.51 589.8,1393.98 590.3,1394.39 590.8,1395.18 591.3,1393.91 591.8,1394.59 592.3,1394.28 592.8,1395.12 593.3,1394.11 593.8,1392.98 594.3,1394.53 594.8,1394.04 595.3,1395.08 595.8,1394.34 596.3,1394.42 596.8,1393.94 597.3,1395.28 597.8,1394.61 598.3,1394.64 598.8,1395.29 599.3,1394.11 599.8,1394.21 600.3,1393.87 600.8,1394.87 601.3,1393.85 601.8,1394.68 602.3,1394.87 602.8,1395.12 603.3,1393.88 603.8,1394.55 604.3,1394.22 604.8,1394.41 605.3,1394.69 605.8,1394.02 606.3,1394.91 606.8,1395.03 607.3,1394.37 607.8,1395.04 608.3,1394.38 608.8,1394.95 609.3,1394.14 609.8,1394.43 610.3,1394.98 610.8,1394.99 611.3,1393.85 611.8,1395.2 612.3,1394.14 612.8,1394.71 613.3,1394.56 613.8,1394.41 614.3,1393.79 614.8,1395.21 615.3,1395.16 615.8,1394.96 616.3,1395.07 616.8,1394.71 617.3,1394.76 617.8,1394.55 618.3,1394.67 618.8,1394.52 619.3,1395.16 619.8,1394.19 620.3,1393.91 620.8,1395.16 621.3,1394.13 621.8,1394.53 622.3,1393.91 622.8,1394.16 623.3,1394.16 623.8,1393.85 624.3,1394.98 624.8,1394.57 625.3,1394.02 625.8,1394.41 626.3,1394.63 626.8,1394.18 627.3,1394.05 627.8,1394.29 628.3,1393.73 628.8,1395 629.3,1394.54 629.8,1394.14 630.3,1394.15 630.8,1393.94 631.3,1395.01 631.8,1393.8 632.3,1394.36 632.8,1393.87 633.3,1395.14 633.8,1393.93 634.3,1394.23 634.8,1394.63 635.3,1394.93 635.8,1394.81 636.3,1394.84 636.8,1394.88 637.3,1395.07 637.8,1392.86 638.3,1394.58 638.8,1395.14 639.3,1394.33 639.8,1395.01 640.3,1394.27 640.8,1394.39 641.3,1394.14 641.8,1394.53 642.3,1394.18 642.8,1394.98 643.3,1394.37 643.8,1394.16 644.3,1394.57 644.8,1393.83 645.3,1394.19 645.8,1394.96 646.3,1394.01 646.8,1394 647.3,1394.55 647.8,1395.09 648.3,1394.52 648.8,1394.48 649.3,1394.74 649.8,1394.25 650.3,1394.24 650.8,1394.73 651.3,1393.86 651.8,1394.32 652.3,1394.58 652.8,1395.16 653.3,1394.38 653.8,1395.21 654.3,1394.52 654.8,1393.98 655.3,1395.19 655.8,1394.49 656.3,1395.07 656.8,1394.96 657.3,1395.06 657.8,1393.97 658.3,1394.5 658.8,1394.02 659.3,1394.68 659.8,1394.27 660.3,1394.69 660.8,1394.36 661.3,1394.2 661.8,1393.75 662.3,1395.01 662.8,1394.75 663.3,1394.5 663.8,1394.15 664.3,1394.55 664.8,1394.62 665.3,1393.94 665.8,1394.9 666.3,1393.91 666.8,1394.55 667.3,1394.69 667.8,1391.71 668.3,1394.26 668.8,1394.31 669.3,1394.18 669.8,1395.14 670.3,1394.31 670.8,1394.36 671.3,1395.12 671.8,1395.23 672.3,1394.72 672.8,1393.86 673.3,1395.08 673.8,1395.15 674.3,1394.26 674.8,1395.25 675.3,1395.23 675.8,1394.4 676.3,1394.15 676.8,1395.13 677.3,1395.01 677.8,1394.08 678.3,1394.11 678.8,1394.27 679.3,1394 679.8,1394.41 680.3,1393.94 680.8,1395.08 681.3,1394.21 681.8,1394.27 682.3,1393.9 682.8,1394.37 683.3,1394.92 683.8,1394.26 684.3,1394.05 684.8,1395.12 685.3,1394.11 685.8,1394.96 686.3,1395.31 686.8,1395.31 687.3,1394.22 687.8,1394.08 688.3,1394.28 688.8,1394.77 689.3,1394.26 689.8,1394.22 690.3,1394.09 690.8,1394.72 691.3,1395.07 691.8,1394.9 692.3,1394.38 692.8,1394.05 693.3,1395.2 693.8,1394.92 694.3,1394.77 694.8,1394.68 695.3,1394.03 695.8,1394.28 696.3,1395.02 696.8,1394.55 697.3,1395.11 697.8,1395.24 698.3,1394.37 698.8,1394.98 699.3,1394.49 699.8,1394.95 700.3,1394.34 700.8,1394.5 701.3,1394.25 701.8,1395.35 702.3,1395.05 702.8,1394.05 703.3,1394.29 703.8,1394.56 704.3,1394.46 704.8,1394.27 705.3,1394.86 705.8,1394.39 706.3,1395.04 706.8,1394.01 707.3,1395.18 707.8,1394.08 708.3,1394.93 708.8,1394.39 709.3,1395.22 709.8,1395.4 710.3,1394.16 710.8,1394.63 711.3,1395.28 711.8,1394.18 712.3,1394.68 712.8,1395.09 713.3,1395.3 713.8,1394.74 714.3,1395.11 714.8,1394.83 715.3,1394.26 715.8,1394.13 716.3,1395.28 716.8,1394.89 717.3,1395.03 717.8,1394.46 718.3,1394.62 718.8,1394.39 719.3,1394.29 719.8,1395.1 720.3,1394.46 720.8,1394.77 721.3,1394.63 721.8,1395.43 722.3,1394.95 722.8,1395.33 723.3,1395.25 723.8,1395.11 724.3,1394.81 724.8,1395.37 725.3,1394.55 725.8,1394.43 726.3,1394.55 726.8,1395.18 727.3,1394.3 727.8,1394.84 728.3,1394.39 728.8,1394.15 729.3,1395.27 729.8,1395.22 730.3,1394.99 730.8,1394.88 731.3,1394.43 731.8,1394.16 732.3,1395.12 732.8,1395.56 733.3,1394.53 733.8,1394.37 734.3,1395.32 734.8,1394.61 735.3,1395.12 735.8,1395.56 736.3,1395.34 736.8,1395.28 737.3,1394.45 737.8,1394.65 738.3,1395 738.8,1395.42 739.3,1394.24 739.8,1395.12 740.3,1395.24 740.8,1395.6 741.3,1394.93 741.8,1394.63 742.3,1394.3 742.8,1394.43 743.3,1395.64 743.8,1394.25 744.3,1394.47 744.8,1394.19 745.3,1395.47 745.8,1394.83 746.3,1395.18 746.8,1394.82 747.3,1394.85 747.8,1395.43 748.3,1394.44 748.8,1394.86 749.3,1394.72 749.8,1394.32 750.3,1394.89 750.8,1395.56 751.3,1395.66 751.8,1395.13 752.3,1394.29 752.8,1395.11 753.3,1395.06 753.8,1394.92 754.3,1394.65 754.8,1395.53 755.3,1394.48 755.8,1394.87 756.3,1395.19 756.8,1395.07 757.3,1394.99 757.8,1394.79 758.3,1394.47 758.8,1395.02 759.3,1395.49 759.8,1394.34 760.3,1394.58 760.8,1395.03 761.3,1395.06 761.8,1394.97 762.3,1394.32 762.8,1394.31 763.3,1395.49 763.8,1395.27 764.3,1394.36 764.8,1395.27 765.3,1395.44 765.8,1394.45 766.3,1395.03 766.8,1394.39 767.3,1394.27 767.8,1392.85 768.3,1394.51 768.8,1395.25 769.3,1395.52 769.8,1395.49 770.3,1395.56 770.8,1394.43 771.3,1394.69 771.8,1395.2 772.3,1394.36 772.8,1395.28 773.3,1395.25 773.8,1395.08 774.3,1394.99 774.8,1394.34 775.3,1395.18 775.8,1394.45 776.3,1395.42 776.8,1394.33 777.3,1394.32 777.8,1394.43 778.3,1394.59 778.8,1394.72 779.3,1395.46 779.8,1395.18 780.3,1394.06 780.8,1394.37 781.3,1395.45 781.8,1394.19 782.3,1395.36 782.8,1394.72 783.3,1394.37 783.8,1394.72 784.3,1395.04 784.8,1394.62 785.3,1395.46 785.8,1394.19 786.3,1394.66 786.8,1394.98 787.3,1392.78 787.8,1394.61 788.3,1394.8 788.8,1394.17 789.3,1395.11 789.8,1394.51 790.3,1394.49 790.8,1394.89 791.3,1395.58 791.8,1394.93 792.3,1395.4 792.8,1395.03 793.3,1394.63 793.8,1395.27 794.3,1395.48 794.8,1394.53" fill="none" stroke="#2869cc" stroke-width="3.3" stroke-linejoin="round" stroke-linecap="butt"/>
<line x1="103.2" y1="1196.7" x2="103.2" y2="1398" stroke="#606060" stroke-width="1.9"/>
<circle cx="104" cy="1238.2" r="6.6" fill="#fff" stroke="#2869cc" stroke-width="3.5"/>
<rect x="109" y="1197.2" width="206.6" height="79.4" rx="8.5" fill="rgba(0,0,0,0.67)"/><text class="a w" x="116.4" y="1227.2" fill="#fff" stroke="#fff">3-17 21:26</text><text class="a w" x="118.6" y="1258" fill="#2869cc" stroke="#2869cc"><tspan class="tl">CPU</tspan><tspan class="tc" dx="0.55">使用率</tspan><tspan class="tl" dx="-0.55">::</tspan></text><text class="a w" x="240.8" y="1258" fill="#fff" stroke="#fff">95.3%</text>
<line x1="946.6" y1="1196.7" x2="1652.2" y2="1196.7" stroke="#cdcdcd" stroke-width="1.7" stroke-dasharray="3.5 3.6"/><line x1="938.2" y1="1196.7" x2="948.1" y2="1196.7" stroke="#c0c0c0" stroke-width="1.9"/><line x1="946.6" y1="1221.86" x2="1652.2" y2="1221.86" stroke="#cdcdcd" stroke-width="1.7" stroke-dasharray="3.5 3.6"/><line x1="938.2" y1="1221.86" x2="948.1" y2="1221.86" stroke="#c0c0c0" stroke-width="1.9"/><line x1="946.6" y1="1247.03" x2="1652.2" y2="1247.03" stroke="#cdcdcd" stroke-width="1.7" stroke-dasharray="3.5 3.6"/><line x1="938.2" y1="1247.03" x2="948.1" y2="1247.03" stroke="#c0c0c0" stroke-width="1.9"/><line x1="946.6" y1="1272.19" x2="1652.2" y2="1272.19" stroke="#cdcdcd" stroke-width="1.7" stroke-dasharray="3.5 3.6"/><line x1="938.2" y1="1272.19" x2="948.1" y2="1272.19" stroke="#c0c0c0" stroke-width="1.9"/><line x1="946.6" y1="1297.35" x2="1652.2" y2="1297.35" stroke="#cdcdcd" stroke-width="1.7" stroke-dasharray="3.5 3.6"/><line x1="938.2" y1="1297.35" x2="948.1" y2="1297.35" stroke="#c0c0c0" stroke-width="1.9"/><line x1="946.6" y1="1322.51" x2="1652.2" y2="1322.51" stroke="#cdcdcd" stroke-width="1.7" stroke-dasharray="3.5 3.6"/><line x1="938.2" y1="1322.51" x2="948.1" y2="1322.51" stroke="#c0c0c0" stroke-width="1.9"/><line x1="946.6" y1="1347.67" x2="1652.2" y2="1347.67" stroke="#cdcdcd" stroke-width="1.7" stroke-dasharray="3.5 3.6"/><line x1="938.2" y1="1347.67" x2="948.1" y2="1347.67" stroke="#c0c0c0" stroke-width="1.9"/><line x1="946.6" y1="1372.84" x2="1652.2" y2="1372.84" stroke="#cdcdcd" stroke-width="1.7" stroke-dasharray="3.5 3.6"/><line x1="938.2" y1="1372.84" x2="948.1" y2="1372.84" stroke="#c0c0c0" stroke-width="1.9"/><line x1="938.2" y1="1398" x2="1652.2" y2="1398" stroke="#c0c0c0" stroke-width="1.9"/><line x1="947.2" y1="1195.8" x2="947.2" y2="1407" stroke="#c0c0c0" stroke-width="1.9"/><line x1="947.2" y1="1398" x2="947.2" y2="1407" stroke="#c0c0c0" stroke-width="1.9"/><line x1="1167.8" y1="1398" x2="1167.8" y2="1407" stroke="#c0c0c0" stroke-width="1.9"/><line x1="1388.5" y1="1398" x2="1388.5" y2="1407" stroke="#c0c0c0" stroke-width="1.9"/><line x1="1609.4" y1="1398" x2="1609.4" y2="1407" stroke="#c0c0c0" stroke-width="1.9"/>
<g class="a" fill="#000" stroke="#000" clip-path="url(#cp9)"><text x="923.9" y="1203.7" text-anchor="end">40.0%</text><text x="923.9" y="1228.86" text-anchor="end">35.0%</text><text x="923.9" y="1254.03" text-anchor="end">30.0%</text><text x="923.9" y="1279.19" text-anchor="end">25.0%</text><text x="923.9" y="1304.35" text-anchor="end">20.0%</text><text x="923.9" y="1329.51" text-anchor="end">15.0%</text><text x="923.9" y="1354.67" text-anchor="end">10.00%</text><text x="923.9" y="1379.84" text-anchor="end">5.00%</text><text x="923.9" y="1405" text-anchor="end">0%</text><text x="947.2" y="1439.3" text-anchor="middle">3-17 21:00</text><text x="1167.8" y="1439.3" text-anchor="middle">3-18 05:00</text><text x="1388.5" y="1439.3" text-anchor="middle">3-18 13:00</text><text x="1609.4" y="1439.3" text-anchor="middle">3-18 21:00</text></g>
<polyline points="947.2,1225.6 955,1225.6 956.5,1224 959,1215.7 964,1214.3 968,1213.8 969.2,1198.2 970.6,1210.5 973,1212 975,1212.07 976.1,1211.91 977.2,1211.99 978.3,1211.79 979.4,1211.93 980.5,1211.83 981.6,1211.59 982.7,1211.78 983.8,1211.77 984.9,1212.23 986,1211.88 987.1,1211.8 988.2,1211.71 989.3,1211.7 990.4,1211.78 991.5,1211.63 992.6,1211.54 993.7,1212.14 994.8,1211.85 995.9,1211.84 997,1211.93 998.1,1211.74 999.2,1211.65 1000.3,1211.57 1001.4,1211.74 1002.5,1211.74 1003.6,1212.03 1004.7,1211.91 1005.8,1212.18 1006.9,1211.76 1008,1212.17 1009.1,1211.93 1010.2,1211.57 1011.3,1211.64 1012.4,1211.92 1013.5,1212.21 1014.6,1211.76 1015.7,1212.06 1016.8,1211.81 1017.9,1212.12 1019,1211.56 1020.1,1211.85 1021.2,1212.14 1022.3,1211.7 1023.4,1211.69 1024.5,1211.52 1025.6,1211.62 1026.7,1211.69 1027.8,1212 1028.9,1211.66 1030,1211.78 1031.1,1211.64 1032.2,1211.92 1033.3,1212.1 1034.4,1211.95 1035.5,1211.63 1036.6,1212.01 1037.7,1212.17 1038.8,1211.91 1039.9,1211.55 1041,1212.06 1042.1,1212.1 1043.2,1211.73 1044.3,1211.58 1045.4,1211.62 1046.5,1211.86 1047.6,1212.1 1048.7,1211.93 1049.8,1212.13 1050.9,1211.63 1052,1211.71 1053.1,1212.01 1054.2,1211.93 1055.3,1211.76 1056.4,1211.95 1057.5,1211.71 1058.6,1211.52 1059.7,1211.77 1060.8,1211.51 1061.9,1211.91 1063,1211.71 1064.1,1211.82 1065.2,1211.89 1066.3,1211.65 1067.4,1211.79 1068.5,1211.48 1069.6,1212.11 1070.7,1211.86 1071.8,1212.16 1072.9,1211.5 1074,1211.89 1075.1,1211.97 1076.2,1211.69 1077.3,1211.53 1078.4,1211.57 1079.5,1211.56 1080.6,1211.99 1081.7,1211.52 1082.8,1212.02 1083.9,1211.75 1085,1211.83 1086.1,1211.86 1087.2,1211.84 1088.3,1211.91 1089.4,1211.87 1090.5,1211.68 1091.6,1211.97 1092.7,1211.63 1093.8,1211.94 1094.9,1211.98 1096,1211.99 1097.1,1211.66 1098.2,1211.98 1099.3,1212.12 1100.4,1211.76 1101.5,1211.63 1102.6,1211.8 1103.7,1212.1 1104.8,1211.53 1105.9,1211.44 1107,1211.77 1108.1,1211.89 1109.2,1211.97 1110.3,1211.68 1111.4,1212.12 1112.5,1211.59 1113.6,1211.96 1114.7,1211.49 1115.8,1211.45 1116.9,1211.52 1118,1211.47 1119.1,1211.77 1120.2,1211.81 1121.3,1211.55 1122.4,1212.08 1123.5,1211.67 1124.6,1211.52 1125.7,1211.54 1126.8,1211.93 1127.9,1212.06 1129,1211.53 1130.1,1211.43 1131.2,1211.96 1132.3,1211.58 1133.4,1212.1 1134.5,1211.76 1135.6,1211.85 1136.7,1211.65 1137.8,1211.97 1138.9,1211.73 1140,1211.63 1141.1,1212.04 1142.2,1211.48 1143.3,1211.91 1144.4,1211.45 1145.5,1211.85 1146.6,1211.68 1147.7,1212 1148.8,1211.44 1149.9,1211.79 1151,1211.68 1152.1,1212.04 1153.2,1212.05 1154.3,1211.83 1155.4,1211.55 1156.5,1211.57 1157.6,1211.57 1158.7,1211.69 1159.8,1211.55 1160.9,1211.53 1162,1211.92 1163.1,1211.83 1164.2,1211.59 1165.3,1212.08 1166.4,1211.53 1167.5,1211.78 1168.6,1211.49 1169.7,1211.98 1170.8,1211.99 1171.9,1211.56 1173,1211.9 1174.1,1211.95 1175.2,1211.57 1176.3,1211.6 1177.4,1211.71 1178.5,1211.99 1179.6,1211.48 1180.7,1211.85 1181.8,1211.79 1182.9,1211.68 1184,1211.77 1185.1,1211.98 1186.2,1211.51 1187.3,1211.98 1188.4,1211.61 1189.5,1211.91 1190.6,1211.96 1191.7,1211.49 1192.8,1211.96 1193.9,1212.05 1195,1211.56 1196.1,1211.37 1197.2,1211.43 1198.3,1212.04 1199.4,1211.36 1200.5,1211.99 1201.6,1211.46 1202.7,1211.86 1203.8,1211.42 1204.9,1211.47 1206,1211.82 1207.1,1211.41 1208.2,1211.58 1209.3,1211.99 1210.4,1211.84 1211.5,1211.96 1212.6,1212.03 1213.7,1211.36 1214.8,1211.5 1215.9,1211.89 1217,1211.82 1218.1,1211.36 1219.2,1211.69 1220.3,1211.5 1221.4,1211.63 1222.5,1211.41 1223.6,1211.34 1224.7,1212.02 1225.8,1211.55 1226.9,1211.94 1228,1211.41 1229.1,1211.67 1230.2,1211.42 1231.3,1211.62 1232.4,1211.45 1233.5,1211.8 1234.6,1211.42 1235.7,1211.84 1236.8,1211.67 1237.9,1211.4 1239,1211.56 1240.1,1211.66 1241.2,1211.96 1242.3,1211.56 1243.4,1211.46 1244.5,1211.99 1245.6,1211.93 1246.7,1211.82 1247.8,1211.5 1248.9,1211.43 1250,1211.49 1251.1,1211.35 1252.2,1211.34 1253.3,1211.66 1254.4,1211.59 1256.4,1210.2 1258.8,1211.78 1259.9,1211.76 1261,1211.68 1262.1,1211.68 1263.2,1211.78 1264.3,1211.98 1265.4,1211.91 1266.5,1211.8 1267.6,1211.57 1268.7,1211.51 1269.8,1211.58 1270.9,1211.97 1272,1211.56 1273.1,1211.56 1274.2,1211.57 1275.3,1211.39 1276.4,1211.98 1277.5,1211.29 1278.6,1211.71 1279.7,1211.93 1280.8,1211.46 1281.9,1211.71 1283,1211.54 1284.1,1211.45 1285.2,1211.42 1286.3,1211.36 1287.4,1211.86 1288.5,1211.82 1289.6,1211.91 1290.7,1211.31 1291.8,1211.76 1292.9,1211.5 1294,1211.72 1295.1,1211.65 1296.2,1211.49 1297.3,1211.95 1298.4,1211.27 1299.5,1211.79 1300.6,1211.86 1301.7,1211.62 1302.8,1211.68 1303.9,1211.96 1305,1211.42 1306.1,1211.7 1307.2,1211.78 1308.3,1211.52 1309.4,1211.75 1310.5,1211.53 1311.6,1211.62 1312.7,1211.68 1313.8,1211.73 1314.9,1211.48 1316,1211.69 1317.1,1211.63 1318.2,1211.4 1319.3,1211.67 1320.4,1211.43 1321.5,1211.88 1322.6,1211.57 1323.7,1211.75 1324.8,1211.61 1325.9,1211.57 1327,1211.39 1328.1,1211.34 1329.2,1211.89 1330.3,1211.61 1331.4,1211.6 1332.5,1211.6 1333.6,1211.8 1334.7,1211.4 1335.8,1211.35 1336.9,1211.81 1338,1211.55 1339.1,1211.68 1340.2,1211.81 1341.3,1211.85 1342.4,1211.83 1343.5,1211.26 1344.6,1211.49 1345.7,1211.81 1346.8,1211.79 1347.9,1211.31 1349,1211.33 1350.1,1211.4 1351.2,1211.29 1352.3,1211.47 1353.4,1211.78 1354.5,1211.58 1355.6,1211.53 1356.7,1211.27 1357.8,1211.49 1358.9,1211.91 1360,1211.7 1361.1,1211.52 1362.2,1211.54 1363.3,1211.77 1364.4,1211.74 1365.5,1211.31 1366.6,1211.68 1367.7,1211.46 1368.8,1211.57 1369.9,1211.37 1371,1211.46 1372.1,1211.44 1373.2,1211.47 1374.3,1211.21 1375.4,1211.34 1376.5,1211.6 1377.6,1211.24 1378.7,1211.32 1379.8,1211.7 1380.9,1211.38 1382,1211.42 1383.1,1211.36 1384.2,1211.77 1385.3,1211.25 1386.4,1211.63 1387.5,1211.79 1388.6,1211.33 1389.7,1211.48 1390.8,1211.74 1391.9,1211.61 1393,1211.44 1394.1,1211.21 1395.2,1211.49 1396.3,1211.44 1397.4,1211.68 1398.5,1211.38 1399.6,1211.46 1400.7,1211.63 1401.8,1211.74 1402.9,1211.42 1404,1211.44 1405.1,1211.58 1406.2,1211.82 1407.3,1211.3 1408.4,1211.85 1409.5,1211.66 1410.6,1211.43 1411.7,1211.63 1412.8,1211.39 1413.9,1211.21 1415,1211.69 1416.1,1211.43 1417.2,1211.53 1418.3,1211.51 1419.4,1211.79 1420.5,1211.69 1421.6,1211.17 1422.7,1211.57 1423.8,1211.48 1424.9,1211.48 1426,1211.74 1427.1,1211.44 1428.2,1211.48 1429.3,1211.77 1430.4,1211.46 1431.5,1211.49 1432.6,1211.5 1433.7,1211.72 1434.8,1211.61 1435.9,1211.66 1437,1211.42 1438.1,1211.17 1439.2,1211.62 1440.3,1211.53 1441.4,1211.68 1442.5,1211.68 1443.6,1211.22 1444.7,1211.29 1445.8,1211.19 1446.9,1211.71 1448,1211.2 1449.1,1211.19 1450.2,1211.66 1451.3,1211.52 1452.4,1211.17 1453.5,1211.6 1454.6,1211.62 1455.7,1211.46 1456.8,1211.16 1457.9,1211.61 1459,1211.42 1460.1,1211.53 1461.2,1211.82 1462.3,1211.69 1463.4,1211.73 1464.5,1211.22 1465.6,1211.35 1466.7,1211.48 1467.8,1211.12 1468.9,1211.81 1470,1211.31 1471.1,1211.3 1472.2,1211.33 1473.3,1211.29 1474.4,1211.71 1475.5,1211.5 1476.6,1211.47 1477.7,1211.4 1478.8,1211.14 1479.9,1211.32 1481,1211.71 1482.1,1211.66 1483.2,1211.7 1484.3,1211.28 1485.4,1211.24 1486.5,1211.14 1487.6,1211.47 1488.7,1211.36 1489.8,1211.42 1490.9,1211.44 1492,1211.5 1493.1,1211.35 1494.2,1211.65 1495.3,1211.23 1496.4,1211.73 1497.5,1211.48 1498.6,1211.12 1499.7,1211.31 1500.8,1211.46 1501.9,1211.37 1503,1211.48 1504.1,1211.31 1505.2,1211.27 1506.3,1211.64 1507.4,1211.28 1508.5,1211.58 1509.6,1211.64 1510.7,1211.49 1511.8,1211.39 1512.9,1211.73 1514,1211.39 1515.1,1211.69 1516.2,1211.11 1517.3,1211.38 1518.4,1211.52 1519.5,1211.1 1520.6,1211.67 1521.7,1211.12 1522.8,1211.48 1523.9,1211.19 1525,1211.71 1526.1,1211.46 1527.2,1211.62 1528.3,1211.41 1529.4,1211.53 1530.5,1211.53 1531.6,1211.27 1532.7,1211.21 1533.8,1211.64 1534.9,1211.16 1536,1211.7 1537.1,1211.2 1538.2,1211.12 1539.3,1211.12 1540.4,1211.6 1541.5,1211.72 1542.6,1211.34 1543.7,1211.51 1544.8,1211.23 1545.9,1211.68 1547,1211.53 1548.1,1211.15 1549.2,1211.08 1550.3,1211.53 1551.4,1211.07 1552.5,1211.63 1553.6,1211.25 1554.7,1211.2 1555.8,1211.44 1556.9,1211.26 1558,1211.43 1559.1,1211.14 1560.2,1211.67 1561.3,1211.26 1562.4,1211.62 1563.5,1211.14 1564.6,1211.59 1565.7,1211.71 1566.8,1211.3 1567.9,1211.05 1569,1211.29 1570.1,1211.47 1571.2,1211.18 1572.3,1211.4 1573.4,1211.09 1574.5,1211.35 1575.6,1211.53 1576.7,1211.32 1577.8,1211.49 1578.9,1211.1 1580,1211.6 1581.1,1211.1 1582.2,1211.66 1583.3,1211.71 1584.4,1211.67 1585.5,1211.38 1586.6,1211.21 1587.7,1211.25 1588.8,1211.53 1589.9,1211.36 1591,1211.66 1592.1,1211.07 1593.2,1211.34 1594.3,1211.61 1595.4,1211.42 1596.5,1211.38 1597.6,1211.06 1598.7,1211.1 1599.8,1211.19 1600.9,1211.62 1602,1211.59 1603.1,1211.15 1604.2,1211.64 1605.3,1211.02 1606.4,1211.41 1607.5,1211.67 1608.6,1211.23 1609.7,1211.65 1610.8,1211.45 1611.9,1211.02 1613,1211.22 1614.1,1211.3 1615.2,1211.16 1616.3,1211.5 1617.4,1211.11 1618.5,1211.53 1619.6,1211.19 1620.7,1211.03 1621.8,1211.37 1622.9,1211.05 1624,1211.36 1625.1,1211.53 1626.2,1211.39 1627.3,1211.3 1628.4,1211 1629.5,1211.33 1630.6,1211.04 1631.7,1211.42 1632.8,1211.06 1633.9,1211.37 1635,1211.21 1636.1,1211.23 1637.2,1211.43 1638.3,1211.08 1639.4,1211.08 1640.5,1211.62 1641.6,1211.19 1642.7,1211.55 1643.8,1211.57 1644.9,1211.3 1646,1211.06 1647.1,1211.02 1648.2,1211.57 1649.3,1211.04 1650.4,1211.3 1651.5,1211.33 1652.5,1211.3" fill="none" stroke="#2869cc" stroke-width="3.2" stroke-linejoin="round" stroke-linecap="butt"/>
<line x1="959.1" y1="1196.7" x2="959.1" y2="1398" stroke="#606060" stroke-width="1.9"/>
<circle cx="959.1" cy="1215.7" r="6.6" fill="#fff" stroke="#2869cc" stroke-width="3.5"/>
<rect x="977.2" y="1197.2" width="199.3" height="79.9" rx="8.5" fill="rgba(0,0,0,0.67)"/><text class="a w" x="985" y="1227" fill="#fff" stroke="#fff">3-17 21:26</text><text class="a w" x="987.4" y="1258.2" fill="#2869cc" stroke="#2869cc"><tspan class="tc" dx="0.55">内存使用率</tspan><tspan class="tl" dx="-0.55">:</tspan></text><text class="a w" x="1103" y="1258.2" fill="#fff" stroke="#fff">36.2%</text>
</svg>
</body></html>
